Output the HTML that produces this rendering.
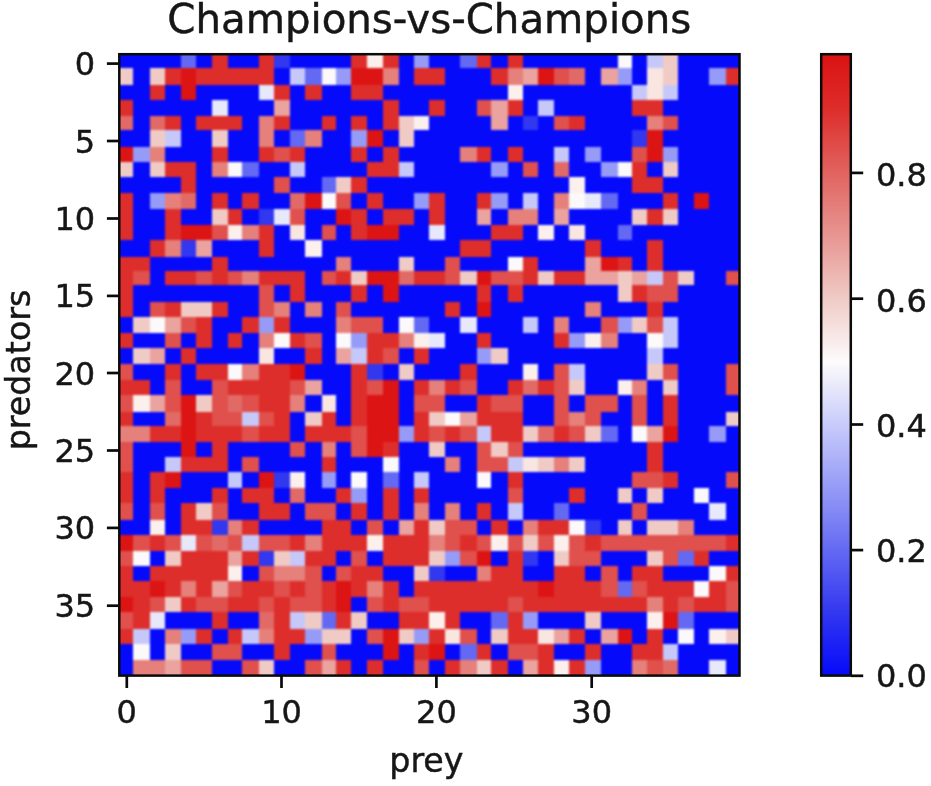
<!DOCTYPE html>
<html lang="en"><head><meta charset="utf-8"><title>Champions-vs-Champions</title>
<style>html,body{margin:0;padding:0;background:#fff}body{width:931px;height:786px;overflow:hidden}svg{display:block}text{font-family:'DejaVu Sans','Liberation Sans',sans-serif;fill:#161616;stroke:#161616;stroke-width:.45px}</style>
</head><body>
<svg width="931" height="786" viewBox="0 0 931 786">
<defs>
<clipPath id="axclip"><rect x="119.3" y="54.2" width="620.2" height="621.4"/></clipPath>
<linearGradient id="cbgrad" x1="0" y1="1" x2="0" y2="0">
<stop offset="0.000" stop-color="rgb(5,10,250)"/>
<stop offset="0.101" stop-color="rgb(50,55,240)"/>
<stop offset="0.202" stop-color="rgb(100,105,243)"/>
<stop offset="0.303" stop-color="rgb(150,155,247)"/>
<stop offset="0.404" stop-color="rgb(200,203,250)"/>
<stop offset="0.505" stop-color="rgb(253,251,252)"/>
<stop offset="0.606" stop-color="rgb(240,203,198)"/>
<stop offset="0.707" stop-color="rgb(231,150,146)"/>
<stop offset="0.808" stop-color="rgb(225,100,96)"/>
<stop offset="0.910" stop-color="rgb(221,46,44)"/>
<stop offset="1.000" stop-color="rgb(218,18,18)"/>
</linearGradient>
<filter id="soft" x="-2%" y="-2%" width="104%" height="104%" color-interpolation-filters="sRGB"><feGaussianBlur in="SourceGraphic" stdDeviation="0.8"/></filter>
</defs>
<rect width="931" height="786" fill="#fff"/>
<g clip-path="url(#axclip)"><rect x="117" y="52" width="625" height="626" fill="rgb(5,10,250)"/><g filter="url(#soft)" shape-rendering="crispEdges">
<rect x="117.4" y="52.0" width="63.8" height="15.8" fill="rgb(5,10,250)"/>
<rect x="180.9" y="52.0" width="15.6" height="15.8" fill="rgb(100,105,243)"/>
<rect x="196.2" y="52.0" width="16.4" height="15.8" fill="rgb(5,10,250)"/>
<rect x="212.3" y="52.0" width="15.7" height="15.8" fill="rgb(221,46,44)"/>
<rect x="227.7" y="52.0" width="31.5" height="15.8" fill="rgb(5,10,250)"/>
<rect x="258.9" y="52.0" width="15.4" height="15.8" fill="rgb(221,46,44)"/>
<rect x="274.0" y="52.0" width="16.2" height="15.8" fill="rgb(50,55,240)"/>
<rect x="289.9" y="52.0" width="61.4" height="15.8" fill="rgb(5,10,250)"/>
<rect x="351.0" y="52.0" width="16.6" height="15.8" fill="rgb(221,46,44)"/>
<rect x="367.3" y="52.0" width="15.7" height="15.8" fill="rgb(252,240,237)"/>
<rect x="382.7" y="52.0" width="16.6" height="15.8" fill="rgb(221,46,44)"/>
<rect x="399.0" y="52.0" width="15.2" height="15.8" fill="rgb(5,10,250)"/>
<rect x="413.9" y="52.0" width="15.4" height="15.8" fill="rgb(150,155,247)"/>
<rect x="429.0" y="52.0" width="31.1" height="15.8" fill="rgb(5,10,250)"/>
<rect x="459.8" y="52.0" width="17.1" height="15.8" fill="rgb(100,105,243)"/>
<rect x="476.6" y="52.0" width="14.6" height="15.8" fill="rgb(221,46,44)"/>
<rect x="490.9" y="52.0" width="17.4" height="15.8" fill="rgb(5,10,250)"/>
<rect x="508.0" y="52.0" width="15.0" height="15.8" fill="rgb(221,46,44)"/>
<rect x="522.7" y="52.0" width="95.3" height="15.8" fill="rgb(5,10,250)"/>
<rect x="617.7" y="52.0" width="14.2" height="15.8" fill="rgb(252,249,250)"/>
<rect x="631.6" y="52.0" width="15.2" height="15.8" fill="rgb(5,10,250)"/>
<rect x="646.5" y="52.0" width="16.6" height="15.8" fill="rgb(198,200,250)"/>
<rect x="662.8" y="52.0" width="15.4" height="15.8" fill="rgb(240,203,198)"/>
<rect x="677.9" y="52.0" width="63.8" height="15.8" fill="rgb(5,10,250)"/>
<rect x="117.4" y="67.5" width="15.8" height="17.6" fill="rgb(240,203,198)"/>
<rect x="132.9" y="67.5" width="17.2" height="17.6" fill="rgb(5,10,250)"/>
<rect x="149.8" y="67.5" width="15.1" height="17.6" fill="rgb(240,203,198)"/>
<rect x="164.6" y="67.5" width="16.6" height="17.6" fill="rgb(221,46,44)"/>
<rect x="180.9" y="67.5" width="15.6" height="17.6" fill="rgb(220,20,20)"/>
<rect x="196.2" y="67.5" width="78.1" height="17.6" fill="rgb(221,46,44)"/>
<rect x="274.0" y="67.5" width="16.2" height="17.6" fill="rgb(5,10,250)"/>
<rect x="289.9" y="67.5" width="15.7" height="17.6" fill="rgb(198,200,250)"/>
<rect x="305.3" y="67.5" width="16.6" height="17.6" fill="rgb(100,105,243)"/>
<rect x="321.6" y="67.5" width="14.6" height="17.6" fill="rgb(252,249,250)"/>
<rect x="335.9" y="67.5" width="15.4" height="17.6" fill="rgb(150,155,247)"/>
<rect x="351.0" y="67.5" width="32.0" height="17.6" fill="rgb(220,20,20)"/>
<rect x="382.7" y="67.5" width="16.6" height="17.6" fill="rgb(229,128,123)"/>
<rect x="399.0" y="67.5" width="15.2" height="17.6" fill="rgb(5,10,250)"/>
<rect x="413.9" y="67.5" width="31.7" height="17.6" fill="rgb(221,46,44)"/>
<rect x="445.3" y="67.5" width="45.9" height="17.6" fill="rgb(5,10,250)"/>
<rect x="490.9" y="67.5" width="17.4" height="17.6" fill="rgb(221,46,44)"/>
<rect x="508.0" y="67.5" width="15.0" height="17.6" fill="rgb(229,128,123)"/>
<rect x="522.7" y="67.5" width="15.3" height="17.6" fill="rgb(234,163,158)"/>
<rect x="537.7" y="67.5" width="16.6" height="17.6" fill="rgb(220,20,20)"/>
<rect x="554.0" y="67.5" width="15.2" height="17.6" fill="rgb(224,80,76)"/>
<rect x="568.9" y="67.5" width="16.4" height="17.6" fill="rgb(225,106,102)"/>
<rect x="585.0" y="67.5" width="15.8" height="17.6" fill="rgb(5,10,250)"/>
<rect x="600.5" y="67.5" width="17.5" height="17.6" fill="rgb(234,163,158)"/>
<rect x="617.7" y="67.5" width="14.2" height="17.6" fill="rgb(150,155,247)"/>
<rect x="631.6" y="67.5" width="15.2" height="17.6" fill="rgb(5,10,250)"/>
<rect x="646.5" y="67.5" width="16.6" height="17.6" fill="rgb(249,230,225)"/>
<rect x="662.8" y="67.5" width="15.4" height="17.6" fill="rgb(240,203,198)"/>
<rect x="677.9" y="67.5" width="31.4" height="17.6" fill="rgb(5,10,250)"/>
<rect x="709.0" y="67.5" width="17.2" height="17.6" fill="rgb(150,155,247)"/>
<rect x="725.9" y="67.5" width="15.8" height="17.6" fill="rgb(221,46,44)"/>
<rect x="117.4" y="84.8" width="32.7" height="15.1" fill="rgb(5,10,250)"/>
<rect x="149.8" y="84.8" width="15.1" height="15.1" fill="rgb(221,46,44)"/>
<rect x="164.6" y="84.8" width="16.6" height="15.1" fill="rgb(5,10,250)"/>
<rect x="180.9" y="84.8" width="15.6" height="15.1" fill="rgb(220,20,20)"/>
<rect x="196.2" y="84.8" width="63.0" height="15.1" fill="rgb(5,10,250)"/>
<rect x="258.9" y="84.8" width="15.4" height="15.1" fill="rgb(232,232,251)"/>
<rect x="274.0" y="84.8" width="16.2" height="15.1" fill="rgb(221,46,44)"/>
<rect x="289.9" y="84.8" width="15.7" height="15.1" fill="rgb(5,10,250)"/>
<rect x="305.3" y="84.8" width="16.6" height="15.1" fill="rgb(221,46,44)"/>
<rect x="321.6" y="84.8" width="29.7" height="15.1" fill="rgb(5,10,250)"/>
<rect x="351.0" y="84.8" width="32.0" height="15.1" fill="rgb(221,46,44)"/>
<rect x="382.7" y="84.8" width="125.6" height="15.1" fill="rgb(5,10,250)"/>
<rect x="508.0" y="84.8" width="15.0" height="15.1" fill="rgb(252,240,237)"/>
<rect x="522.7" y="84.8" width="109.2" height="15.1" fill="rgb(5,10,250)"/>
<rect x="631.6" y="84.8" width="15.2" height="15.1" fill="rgb(198,200,250)"/>
<rect x="646.5" y="84.8" width="16.6" height="15.1" fill="rgb(249,230,225)"/>
<rect x="662.8" y="84.8" width="15.4" height="15.1" fill="rgb(198,200,250)"/>
<rect x="677.9" y="84.8" width="63.8" height="15.1" fill="rgb(5,10,250)"/>
<rect x="117.4" y="99.6" width="15.8" height="16.2" fill="rgb(221,46,44)"/>
<rect x="132.9" y="99.6" width="79.7" height="16.2" fill="rgb(5,10,250)"/>
<rect x="212.3" y="99.6" width="15.7" height="16.2" fill="rgb(232,232,251)"/>
<rect x="227.7" y="99.6" width="46.6" height="16.2" fill="rgb(5,10,250)"/>
<rect x="274.0" y="99.6" width="16.2" height="16.2" fill="rgb(234,163,158)"/>
<rect x="289.9" y="99.6" width="93.1" height="16.2" fill="rgb(5,10,250)"/>
<rect x="382.7" y="99.6" width="16.6" height="16.2" fill="rgb(221,46,44)"/>
<rect x="399.0" y="99.6" width="30.3" height="16.2" fill="rgb(5,10,250)"/>
<rect x="429.0" y="99.6" width="16.6" height="16.2" fill="rgb(221,46,44)"/>
<rect x="445.3" y="99.6" width="31.6" height="16.2" fill="rgb(5,10,250)"/>
<rect x="476.6" y="99.6" width="14.6" height="16.2" fill="rgb(224,80,76)"/>
<rect x="490.9" y="99.6" width="17.4" height="16.2" fill="rgb(234,163,158)"/>
<rect x="508.0" y="99.6" width="15.0" height="16.2" fill="rgb(221,46,44)"/>
<rect x="522.7" y="99.6" width="15.3" height="16.2" fill="rgb(5,10,250)"/>
<rect x="537.7" y="99.6" width="16.6" height="16.2" fill="rgb(198,200,250)"/>
<rect x="554.0" y="99.6" width="77.9" height="16.2" fill="rgb(5,10,250)"/>
<rect x="631.6" y="99.6" width="31.5" height="16.2" fill="rgb(221,46,44)"/>
<rect x="662.8" y="99.6" width="78.9" height="16.2" fill="rgb(5,10,250)"/>
<rect x="117.4" y="115.5" width="15.8" height="15.2" fill="rgb(225,106,102)"/>
<rect x="132.9" y="115.5" width="17.2" height="15.2" fill="rgb(5,10,250)"/>
<rect x="149.8" y="115.5" width="15.1" height="15.2" fill="rgb(225,106,102)"/>
<rect x="164.6" y="115.5" width="16.6" height="15.2" fill="rgb(221,46,44)"/>
<rect x="180.9" y="115.5" width="15.6" height="15.2" fill="rgb(5,10,250)"/>
<rect x="196.2" y="115.5" width="46.1" height="15.2" fill="rgb(221,46,44)"/>
<rect x="242.0" y="115.5" width="17.2" height="15.2" fill="rgb(5,10,250)"/>
<rect x="258.9" y="115.5" width="15.4" height="15.2" fill="rgb(229,128,123)"/>
<rect x="274.0" y="115.5" width="16.2" height="15.2" fill="rgb(221,46,44)"/>
<rect x="289.9" y="115.5" width="32.0" height="15.2" fill="rgb(5,10,250)"/>
<rect x="321.6" y="115.5" width="14.6" height="15.2" fill="rgb(221,46,44)"/>
<rect x="335.9" y="115.5" width="15.4" height="15.2" fill="rgb(5,10,250)"/>
<rect x="351.0" y="115.5" width="16.6" height="15.2" fill="rgb(221,46,44)"/>
<rect x="367.3" y="115.5" width="15.7" height="15.2" fill="rgb(5,10,250)"/>
<rect x="382.7" y="115.5" width="16.6" height="15.2" fill="rgb(221,46,44)"/>
<rect x="399.0" y="115.5" width="15.2" height="15.2" fill="rgb(240,203,198)"/>
<rect x="413.9" y="115.5" width="15.4" height="15.2" fill="rgb(252,240,237)"/>
<rect x="429.0" y="115.5" width="62.2" height="15.2" fill="rgb(5,10,250)"/>
<rect x="490.9" y="115.5" width="17.4" height="15.2" fill="rgb(234,163,158)"/>
<rect x="508.0" y="115.5" width="15.0" height="15.2" fill="rgb(5,10,250)"/>
<rect x="522.7" y="115.5" width="15.3" height="15.2" fill="rgb(50,55,240)"/>
<rect x="537.7" y="115.5" width="16.6" height="15.2" fill="rgb(5,10,250)"/>
<rect x="554.0" y="115.5" width="15.2" height="15.2" fill="rgb(224,80,76)"/>
<rect x="568.9" y="115.5" width="16.4" height="15.2" fill="rgb(221,46,44)"/>
<rect x="585.0" y="115.5" width="61.8" height="15.2" fill="rgb(5,10,250)"/>
<rect x="646.5" y="115.5" width="16.6" height="15.2" fill="rgb(229,128,123)"/>
<rect x="662.8" y="115.5" width="15.4" height="15.2" fill="rgb(224,80,76)"/>
<rect x="677.9" y="115.5" width="63.8" height="15.2" fill="rgb(5,10,250)"/>
<rect x="117.4" y="130.4" width="32.7" height="17.2" fill="rgb(5,10,250)"/>
<rect x="149.8" y="130.4" width="15.1" height="17.2" fill="rgb(240,203,198)"/>
<rect x="164.6" y="130.4" width="16.6" height="17.2" fill="rgb(198,200,250)"/>
<rect x="180.9" y="130.4" width="31.7" height="17.2" fill="rgb(5,10,250)"/>
<rect x="212.3" y="130.4" width="15.7" height="17.2" fill="rgb(240,203,198)"/>
<rect x="227.7" y="130.4" width="31.5" height="17.2" fill="rgb(5,10,250)"/>
<rect x="258.9" y="130.4" width="15.4" height="17.2" fill="rgb(229,128,123)"/>
<rect x="274.0" y="130.4" width="16.2" height="17.2" fill="rgb(5,10,250)"/>
<rect x="289.9" y="130.4" width="15.7" height="17.2" fill="rgb(100,105,243)"/>
<rect x="305.3" y="130.4" width="16.6" height="17.2" fill="rgb(229,128,123)"/>
<rect x="321.6" y="130.4" width="29.7" height="17.2" fill="rgb(5,10,250)"/>
<rect x="351.0" y="130.4" width="16.6" height="17.2" fill="rgb(150,155,247)"/>
<rect x="367.3" y="130.4" width="15.7" height="17.2" fill="rgb(220,20,20)"/>
<rect x="382.7" y="130.4" width="16.6" height="17.2" fill="rgb(5,10,250)"/>
<rect x="399.0" y="130.4" width="15.2" height="17.2" fill="rgb(240,203,198)"/>
<rect x="413.9" y="130.4" width="218.0" height="17.2" fill="rgb(5,10,250)"/>
<rect x="631.6" y="130.4" width="15.2" height="17.2" fill="rgb(50,55,240)"/>
<rect x="646.5" y="130.4" width="16.6" height="17.2" fill="rgb(220,20,20)"/>
<rect x="662.8" y="130.4" width="78.9" height="17.2" fill="rgb(5,10,250)"/>
<rect x="117.4" y="147.3" width="15.8" height="15.1" fill="rgb(220,20,20)"/>
<rect x="132.9" y="147.3" width="17.2" height="15.1" fill="rgb(150,155,247)"/>
<rect x="149.8" y="147.3" width="15.1" height="15.1" fill="rgb(229,128,123)"/>
<rect x="164.6" y="147.3" width="48.0" height="15.1" fill="rgb(5,10,250)"/>
<rect x="212.3" y="147.3" width="15.7" height="15.1" fill="rgb(221,46,44)"/>
<rect x="227.7" y="147.3" width="31.5" height="15.1" fill="rgb(5,10,250)"/>
<rect x="258.9" y="147.3" width="15.4" height="15.1" fill="rgb(221,46,44)"/>
<rect x="274.0" y="147.3" width="16.2" height="15.1" fill="rgb(224,80,76)"/>
<rect x="289.9" y="147.3" width="15.7" height="15.1" fill="rgb(221,46,44)"/>
<rect x="305.3" y="147.3" width="46.0" height="15.1" fill="rgb(5,10,250)"/>
<rect x="351.0" y="147.3" width="16.6" height="15.1" fill="rgb(221,46,44)"/>
<rect x="367.3" y="147.3" width="15.7" height="15.1" fill="rgb(5,10,250)"/>
<rect x="382.7" y="147.3" width="16.6" height="15.1" fill="rgb(221,46,44)"/>
<rect x="399.0" y="147.3" width="61.1" height="15.1" fill="rgb(5,10,250)"/>
<rect x="459.8" y="147.3" width="17.1" height="15.1" fill="rgb(229,128,123)"/>
<rect x="476.6" y="147.3" width="14.6" height="15.1" fill="rgb(221,46,44)"/>
<rect x="490.9" y="147.3" width="17.4" height="15.1" fill="rgb(5,10,250)"/>
<rect x="508.0" y="147.3" width="15.0" height="15.1" fill="rgb(221,46,44)"/>
<rect x="522.7" y="147.3" width="31.6" height="15.1" fill="rgb(5,10,250)"/>
<rect x="554.0" y="147.3" width="15.2" height="15.1" fill="rgb(198,200,250)"/>
<rect x="568.9" y="147.3" width="16.4" height="15.1" fill="rgb(5,10,250)"/>
<rect x="585.0" y="147.3" width="15.8" height="15.1" fill="rgb(150,155,247)"/>
<rect x="600.5" y="147.3" width="31.4" height="15.1" fill="rgb(5,10,250)"/>
<rect x="631.6" y="147.3" width="15.2" height="15.1" fill="rgb(224,80,76)"/>
<rect x="646.5" y="147.3" width="16.6" height="15.1" fill="rgb(220,20,20)"/>
<rect x="662.8" y="147.3" width="15.4" height="15.1" fill="rgb(150,155,247)"/>
<rect x="677.9" y="147.3" width="63.8" height="15.1" fill="rgb(5,10,250)"/>
<rect x="117.4" y="162.1" width="15.8" height="15.2" fill="rgb(240,203,198)"/>
<rect x="132.9" y="162.1" width="17.2" height="15.2" fill="rgb(5,10,250)"/>
<rect x="149.8" y="162.1" width="15.1" height="15.2" fill="rgb(240,203,198)"/>
<rect x="164.6" y="162.1" width="31.9" height="15.2" fill="rgb(221,46,44)"/>
<rect x="196.2" y="162.1" width="16.4" height="15.2" fill="rgb(5,10,250)"/>
<rect x="212.3" y="162.1" width="15.7" height="15.2" fill="rgb(229,128,123)"/>
<rect x="227.7" y="162.1" width="14.6" height="15.2" fill="rgb(252,249,250)"/>
<rect x="242.0" y="162.1" width="17.2" height="15.2" fill="rgb(100,105,243)"/>
<rect x="258.9" y="162.1" width="31.3" height="15.2" fill="rgb(5,10,250)"/>
<rect x="289.9" y="162.1" width="15.7" height="15.2" fill="rgb(198,200,250)"/>
<rect x="305.3" y="162.1" width="62.3" height="15.2" fill="rgb(5,10,250)"/>
<rect x="367.3" y="162.1" width="32.0" height="15.2" fill="rgb(221,46,44)"/>
<rect x="399.0" y="162.1" width="15.2" height="15.2" fill="rgb(198,200,250)"/>
<rect x="413.9" y="162.1" width="77.3" height="15.2" fill="rgb(5,10,250)"/>
<rect x="490.9" y="162.1" width="17.4" height="15.2" fill="rgb(150,155,247)"/>
<rect x="508.0" y="162.1" width="15.0" height="15.2" fill="rgb(5,10,250)"/>
<rect x="522.7" y="162.1" width="15.3" height="15.2" fill="rgb(224,80,76)"/>
<rect x="537.7" y="162.1" width="16.6" height="15.2" fill="rgb(5,10,250)"/>
<rect x="554.0" y="162.1" width="15.2" height="15.2" fill="rgb(225,106,102)"/>
<rect x="568.9" y="162.1" width="31.9" height="15.2" fill="rgb(5,10,250)"/>
<rect x="600.5" y="162.1" width="17.5" height="15.2" fill="rgb(150,155,247)"/>
<rect x="617.7" y="162.1" width="14.2" height="15.2" fill="rgb(252,249,250)"/>
<rect x="631.6" y="162.1" width="15.2" height="15.2" fill="rgb(221,46,44)"/>
<rect x="646.5" y="162.1" width="16.6" height="15.2" fill="rgb(5,10,250)"/>
<rect x="662.8" y="162.1" width="15.4" height="15.2" fill="rgb(240,203,198)"/>
<rect x="677.9" y="162.1" width="63.8" height="15.2" fill="rgb(5,10,250)"/>
<rect x="117.4" y="177.0" width="63.8" height="16.2" fill="rgb(5,10,250)"/>
<rect x="180.9" y="177.0" width="15.6" height="16.2" fill="rgb(221,46,44)"/>
<rect x="196.2" y="177.0" width="78.1" height="16.2" fill="rgb(5,10,250)"/>
<rect x="274.0" y="177.0" width="16.2" height="16.2" fill="rgb(224,80,76)"/>
<rect x="289.9" y="177.0" width="32.0" height="16.2" fill="rgb(5,10,250)"/>
<rect x="321.6" y="177.0" width="14.6" height="16.2" fill="rgb(100,105,243)"/>
<rect x="335.9" y="177.0" width="15.4" height="16.2" fill="rgb(240,203,198)"/>
<rect x="351.0" y="177.0" width="16.6" height="16.2" fill="rgb(221,46,44)"/>
<rect x="367.3" y="177.0" width="201.9" height="16.2" fill="rgb(5,10,250)"/>
<rect x="568.9" y="177.0" width="16.4" height="16.2" fill="rgb(252,240,237)"/>
<rect x="585.0" y="177.0" width="46.9" height="16.2" fill="rgb(5,10,250)"/>
<rect x="631.6" y="177.0" width="31.5" height="16.2" fill="rgb(221,46,44)"/>
<rect x="662.8" y="177.0" width="78.9" height="16.2" fill="rgb(5,10,250)"/>
<rect x="117.4" y="192.9" width="15.8" height="16.4" fill="rgb(221,46,44)"/>
<rect x="132.9" y="192.9" width="17.2" height="16.4" fill="rgb(5,10,250)"/>
<rect x="149.8" y="192.9" width="15.1" height="16.4" fill="rgb(150,155,247)"/>
<rect x="164.6" y="192.9" width="16.6" height="16.4" fill="rgb(229,128,123)"/>
<rect x="180.9" y="192.9" width="15.6" height="16.4" fill="rgb(225,106,102)"/>
<rect x="196.2" y="192.9" width="16.4" height="16.4" fill="rgb(5,10,250)"/>
<rect x="212.3" y="192.9" width="15.7" height="16.4" fill="rgb(221,46,44)"/>
<rect x="227.7" y="192.9" width="14.6" height="16.4" fill="rgb(5,10,250)"/>
<rect x="242.0" y="192.9" width="17.2" height="16.4" fill="rgb(221,46,44)"/>
<rect x="258.9" y="192.9" width="31.3" height="16.4" fill="rgb(5,10,250)"/>
<rect x="289.9" y="192.9" width="15.7" height="16.4" fill="rgb(225,106,102)"/>
<rect x="305.3" y="192.9" width="16.6" height="16.4" fill="rgb(220,20,20)"/>
<rect x="321.6" y="192.9" width="14.6" height="16.4" fill="rgb(252,249,250)"/>
<rect x="335.9" y="192.9" width="15.4" height="16.4" fill="rgb(224,80,76)"/>
<rect x="351.0" y="192.9" width="16.6" height="16.4" fill="rgb(5,10,250)"/>
<rect x="367.3" y="192.9" width="15.7" height="16.4" fill="rgb(221,46,44)"/>
<rect x="382.7" y="192.9" width="31.5" height="16.4" fill="rgb(5,10,250)"/>
<rect x="413.9" y="192.9" width="15.4" height="16.4" fill="rgb(150,155,247)"/>
<rect x="429.0" y="192.9" width="16.6" height="16.4" fill="rgb(221,46,44)"/>
<rect x="445.3" y="192.9" width="31.6" height="16.4" fill="rgb(5,10,250)"/>
<rect x="476.6" y="192.9" width="14.6" height="16.4" fill="rgb(221,46,44)"/>
<rect x="490.9" y="192.9" width="17.4" height="16.4" fill="rgb(150,155,247)"/>
<rect x="508.0" y="192.9" width="15.0" height="16.4" fill="rgb(5,10,250)"/>
<rect x="522.7" y="192.9" width="15.3" height="16.4" fill="rgb(198,200,250)"/>
<rect x="537.7" y="192.9" width="16.6" height="16.4" fill="rgb(5,10,250)"/>
<rect x="554.0" y="192.9" width="15.2" height="16.4" fill="rgb(229,128,123)"/>
<rect x="568.9" y="192.9" width="16.4" height="16.4" fill="rgb(252,249,250)"/>
<rect x="585.0" y="192.9" width="15.8" height="16.4" fill="rgb(232,232,251)"/>
<rect x="600.5" y="192.9" width="17.5" height="16.4" fill="rgb(100,105,243)"/>
<rect x="617.7" y="192.9" width="45.4" height="16.4" fill="rgb(5,10,250)"/>
<rect x="662.8" y="192.9" width="15.4" height="16.4" fill="rgb(221,46,44)"/>
<rect x="677.9" y="192.9" width="16.1" height="16.4" fill="rgb(5,10,250)"/>
<rect x="693.7" y="192.9" width="15.6" height="16.4" fill="rgb(220,20,20)"/>
<rect x="709.0" y="192.9" width="32.7" height="16.4" fill="rgb(5,10,250)"/>
<rect x="117.4" y="209.0" width="15.8" height="16.2" fill="rgb(221,46,44)"/>
<rect x="132.9" y="209.0" width="32.0" height="16.2" fill="rgb(5,10,250)"/>
<rect x="164.6" y="209.0" width="16.6" height="16.2" fill="rgb(221,46,44)"/>
<rect x="180.9" y="209.0" width="31.7" height="16.2" fill="rgb(5,10,250)"/>
<rect x="212.3" y="209.0" width="15.7" height="16.2" fill="rgb(240,203,198)"/>
<rect x="227.7" y="209.0" width="14.6" height="16.2" fill="rgb(221,46,44)"/>
<rect x="242.0" y="209.0" width="17.2" height="16.2" fill="rgb(5,10,250)"/>
<rect x="258.9" y="209.0" width="15.4" height="16.2" fill="rgb(50,55,240)"/>
<rect x="274.0" y="209.0" width="16.2" height="16.2" fill="rgb(232,232,251)"/>
<rect x="289.9" y="209.0" width="15.7" height="16.2" fill="rgb(224,80,76)"/>
<rect x="305.3" y="209.0" width="30.9" height="16.2" fill="rgb(5,10,250)"/>
<rect x="335.9" y="209.0" width="15.4" height="16.2" fill="rgb(220,20,20)"/>
<rect x="351.0" y="209.0" width="16.6" height="16.2" fill="rgb(221,46,44)"/>
<rect x="367.3" y="209.0" width="15.7" height="16.2" fill="rgb(5,10,250)"/>
<rect x="382.7" y="209.0" width="31.5" height="16.2" fill="rgb(221,46,44)"/>
<rect x="413.9" y="209.0" width="15.4" height="16.2" fill="rgb(5,10,250)"/>
<rect x="429.0" y="209.0" width="16.6" height="16.2" fill="rgb(221,46,44)"/>
<rect x="445.3" y="209.0" width="31.6" height="16.2" fill="rgb(5,10,250)"/>
<rect x="476.6" y="209.0" width="14.6" height="16.2" fill="rgb(234,163,158)"/>
<rect x="490.9" y="209.0" width="17.4" height="16.2" fill="rgb(5,10,250)"/>
<rect x="508.0" y="209.0" width="30.0" height="16.2" fill="rgb(229,128,123)"/>
<rect x="537.7" y="209.0" width="16.6" height="16.2" fill="rgb(5,10,250)"/>
<rect x="554.0" y="209.0" width="15.2" height="16.2" fill="rgb(234,163,158)"/>
<rect x="568.9" y="209.0" width="63.0" height="16.2" fill="rgb(5,10,250)"/>
<rect x="631.6" y="209.0" width="15.2" height="16.2" fill="rgb(240,203,198)"/>
<rect x="646.5" y="209.0" width="16.6" height="16.2" fill="rgb(221,46,44)"/>
<rect x="662.8" y="209.0" width="15.4" height="16.2" fill="rgb(240,203,198)"/>
<rect x="677.9" y="209.0" width="63.8" height="16.2" fill="rgb(5,10,250)"/>
<rect x="117.4" y="224.9" width="15.8" height="15.2" fill="rgb(221,46,44)"/>
<rect x="132.9" y="224.9" width="32.0" height="15.2" fill="rgb(5,10,250)"/>
<rect x="164.6" y="224.9" width="16.6" height="15.2" fill="rgb(221,46,44)"/>
<rect x="180.9" y="224.9" width="31.7" height="15.2" fill="rgb(220,20,20)"/>
<rect x="212.3" y="224.9" width="15.7" height="15.2" fill="rgb(224,80,76)"/>
<rect x="227.7" y="224.9" width="14.6" height="15.2" fill="rgb(252,240,237)"/>
<rect x="242.0" y="224.9" width="17.2" height="15.2" fill="rgb(229,128,123)"/>
<rect x="258.9" y="224.9" width="15.4" height="15.2" fill="rgb(221,46,44)"/>
<rect x="274.0" y="224.9" width="16.2" height="15.2" fill="rgb(5,10,250)"/>
<rect x="289.9" y="224.9" width="15.7" height="15.2" fill="rgb(249,230,225)"/>
<rect x="305.3" y="224.9" width="16.6" height="15.2" fill="rgb(5,10,250)"/>
<rect x="321.6" y="224.9" width="14.6" height="15.2" fill="rgb(224,80,76)"/>
<rect x="335.9" y="224.9" width="15.4" height="15.2" fill="rgb(5,10,250)"/>
<rect x="351.0" y="224.9" width="16.6" height="15.2" fill="rgb(221,46,44)"/>
<rect x="367.3" y="224.9" width="32.0" height="15.2" fill="rgb(220,20,20)"/>
<rect x="399.0" y="224.9" width="30.3" height="15.2" fill="rgb(5,10,250)"/>
<rect x="429.0" y="224.9" width="16.6" height="15.2" fill="rgb(232,232,251)"/>
<rect x="445.3" y="224.9" width="45.9" height="15.2" fill="rgb(5,10,250)"/>
<rect x="490.9" y="224.9" width="32.1" height="15.2" fill="rgb(221,46,44)"/>
<rect x="522.7" y="224.9" width="15.3" height="15.2" fill="rgb(5,10,250)"/>
<rect x="537.7" y="224.9" width="16.6" height="15.2" fill="rgb(252,240,237)"/>
<rect x="554.0" y="224.9" width="15.2" height="15.2" fill="rgb(5,10,250)"/>
<rect x="568.9" y="224.9" width="16.4" height="15.2" fill="rgb(249,230,225)"/>
<rect x="585.0" y="224.9" width="33.0" height="15.2" fill="rgb(5,10,250)"/>
<rect x="617.7" y="224.9" width="14.2" height="15.2" fill="rgb(100,105,243)"/>
<rect x="631.6" y="224.9" width="110.1" height="15.2" fill="rgb(5,10,250)"/>
<rect x="117.4" y="239.8" width="32.7" height="17.1" fill="rgb(5,10,250)"/>
<rect x="149.8" y="239.8" width="15.1" height="17.1" fill="rgb(221,46,44)"/>
<rect x="164.6" y="239.8" width="16.6" height="17.1" fill="rgb(229,128,123)"/>
<rect x="180.9" y="239.8" width="15.6" height="17.1" fill="rgb(50,55,240)"/>
<rect x="196.2" y="239.8" width="16.4" height="17.1" fill="rgb(234,163,158)"/>
<rect x="212.3" y="239.8" width="46.9" height="17.1" fill="rgb(5,10,250)"/>
<rect x="258.9" y="239.8" width="15.4" height="17.1" fill="rgb(221,46,44)"/>
<rect x="274.0" y="239.8" width="31.6" height="17.1" fill="rgb(5,10,250)"/>
<rect x="305.3" y="239.8" width="16.6" height="17.1" fill="rgb(252,240,237)"/>
<rect x="321.6" y="239.8" width="138.5" height="17.1" fill="rgb(5,10,250)"/>
<rect x="459.8" y="239.8" width="31.4" height="17.1" fill="rgb(221,46,44)"/>
<rect x="490.9" y="239.8" width="94.4" height="17.1" fill="rgb(5,10,250)"/>
<rect x="585.0" y="239.8" width="15.8" height="17.1" fill="rgb(221,46,44)"/>
<rect x="600.5" y="239.8" width="46.3" height="17.1" fill="rgb(5,10,250)"/>
<rect x="646.5" y="239.8" width="16.6" height="17.1" fill="rgb(221,46,44)"/>
<rect x="662.8" y="239.8" width="78.9" height="17.1" fill="rgb(5,10,250)"/>
<rect x="117.4" y="256.6" width="32.7" height="14.6" fill="rgb(221,46,44)"/>
<rect x="149.8" y="256.6" width="62.8" height="14.6" fill="rgb(5,10,250)"/>
<rect x="212.3" y="256.6" width="15.7" height="14.6" fill="rgb(221,46,44)"/>
<rect x="227.7" y="256.6" width="108.5" height="14.6" fill="rgb(5,10,250)"/>
<rect x="335.9" y="256.6" width="15.4" height="14.6" fill="rgb(229,128,123)"/>
<rect x="351.0" y="256.6" width="48.3" height="14.6" fill="rgb(5,10,250)"/>
<rect x="399.0" y="256.6" width="15.2" height="14.6" fill="rgb(240,203,198)"/>
<rect x="413.9" y="256.6" width="31.7" height="14.6" fill="rgb(5,10,250)"/>
<rect x="445.3" y="256.6" width="14.8" height="14.6" fill="rgb(224,80,76)"/>
<rect x="459.8" y="256.6" width="48.5" height="14.6" fill="rgb(5,10,250)"/>
<rect x="508.0" y="256.6" width="15.0" height="14.6" fill="rgb(252,249,250)"/>
<rect x="522.7" y="256.6" width="15.3" height="14.6" fill="rgb(221,46,44)"/>
<rect x="537.7" y="256.6" width="47.6" height="14.6" fill="rgb(5,10,250)"/>
<rect x="585.0" y="256.6" width="15.8" height="14.6" fill="rgb(234,163,158)"/>
<rect x="600.5" y="256.6" width="17.5" height="14.6" fill="rgb(220,20,20)"/>
<rect x="617.7" y="256.6" width="14.2" height="14.6" fill="rgb(221,46,44)"/>
<rect x="631.6" y="256.6" width="15.2" height="14.6" fill="rgb(5,10,250)"/>
<rect x="646.5" y="256.6" width="16.6" height="14.6" fill="rgb(221,46,44)"/>
<rect x="662.8" y="256.6" width="78.9" height="14.6" fill="rgb(5,10,250)"/>
<rect x="117.4" y="270.9" width="15.8" height="14.8" fill="rgb(221,46,44)"/>
<rect x="132.9" y="270.9" width="17.2" height="14.8" fill="rgb(224,80,76)"/>
<rect x="149.8" y="270.9" width="15.1" height="14.8" fill="rgb(5,10,250)"/>
<rect x="164.6" y="270.9" width="31.9" height="14.8" fill="rgb(221,46,44)"/>
<rect x="196.2" y="270.9" width="16.4" height="14.8" fill="rgb(224,80,76)"/>
<rect x="212.3" y="270.9" width="15.7" height="14.8" fill="rgb(221,46,44)"/>
<rect x="227.7" y="270.9" width="14.6" height="14.8" fill="rgb(224,80,76)"/>
<rect x="242.0" y="270.9" width="17.2" height="14.8" fill="rgb(229,128,123)"/>
<rect x="258.9" y="270.9" width="46.7" height="14.8" fill="rgb(221,46,44)"/>
<rect x="305.3" y="270.9" width="16.6" height="14.8" fill="rgb(5,10,250)"/>
<rect x="321.6" y="270.9" width="14.6" height="14.8" fill="rgb(224,80,76)"/>
<rect x="335.9" y="270.9" width="15.4" height="14.8" fill="rgb(221,46,44)"/>
<rect x="351.0" y="270.9" width="16.6" height="14.8" fill="rgb(240,203,198)"/>
<rect x="367.3" y="270.9" width="32.0" height="14.8" fill="rgb(220,20,20)"/>
<rect x="399.0" y="270.9" width="15.2" height="14.8" fill="rgb(225,106,102)"/>
<rect x="413.9" y="270.9" width="31.7" height="14.8" fill="rgb(221,46,44)"/>
<rect x="445.3" y="270.9" width="14.8" height="14.8" fill="rgb(224,80,76)"/>
<rect x="459.8" y="270.9" width="17.1" height="14.8" fill="rgb(240,203,198)"/>
<rect x="476.6" y="270.9" width="14.6" height="14.8" fill="rgb(220,20,20)"/>
<rect x="490.9" y="270.9" width="32.1" height="14.8" fill="rgb(224,80,76)"/>
<rect x="522.7" y="270.9" width="15.3" height="14.8" fill="rgb(221,46,44)"/>
<rect x="537.7" y="270.9" width="16.6" height="14.8" fill="rgb(240,203,198)"/>
<rect x="554.0" y="270.9" width="31.3" height="14.8" fill="rgb(221,46,44)"/>
<rect x="585.0" y="270.9" width="15.8" height="14.8" fill="rgb(234,163,158)"/>
<rect x="600.5" y="270.9" width="17.5" height="14.8" fill="rgb(234,163,158)"/>
<rect x="617.7" y="270.9" width="14.2" height="14.8" fill="rgb(240,203,198)"/>
<rect x="631.6" y="270.9" width="15.2" height="14.8" fill="rgb(234,163,158)"/>
<rect x="646.5" y="270.9" width="16.6" height="14.8" fill="rgb(198,200,250)"/>
<rect x="662.8" y="270.9" width="15.4" height="14.8" fill="rgb(224,80,76)"/>
<rect x="677.9" y="270.9" width="16.1" height="14.8" fill="rgb(240,203,198)"/>
<rect x="693.7" y="270.9" width="32.5" height="14.8" fill="rgb(5,10,250)"/>
<rect x="725.9" y="270.9" width="15.8" height="14.8" fill="rgb(224,80,76)"/>
<rect x="117.4" y="285.4" width="15.8" height="17.2" fill="rgb(221,46,44)"/>
<rect x="132.9" y="285.4" width="126.3" height="17.2" fill="rgb(5,10,250)"/>
<rect x="258.9" y="285.4" width="15.4" height="17.2" fill="rgb(224,80,76)"/>
<rect x="274.0" y="285.4" width="16.2" height="17.2" fill="rgb(5,10,250)"/>
<rect x="289.9" y="285.4" width="15.7" height="17.2" fill="rgb(221,46,44)"/>
<rect x="305.3" y="285.4" width="46.0" height="17.2" fill="rgb(5,10,250)"/>
<rect x="351.0" y="285.4" width="16.6" height="17.2" fill="rgb(221,46,44)"/>
<rect x="367.3" y="285.4" width="15.7" height="17.2" fill="rgb(5,10,250)"/>
<rect x="382.7" y="285.4" width="16.6" height="17.2" fill="rgb(220,20,20)"/>
<rect x="399.0" y="285.4" width="77.9" height="17.2" fill="rgb(5,10,250)"/>
<rect x="476.6" y="285.4" width="14.6" height="17.2" fill="rgb(221,46,44)"/>
<rect x="490.9" y="285.4" width="17.4" height="17.2" fill="rgb(5,10,250)"/>
<rect x="508.0" y="285.4" width="15.0" height="17.2" fill="rgb(221,46,44)"/>
<rect x="522.7" y="285.4" width="95.3" height="17.2" fill="rgb(5,10,250)"/>
<rect x="617.7" y="285.4" width="14.2" height="17.2" fill="rgb(240,203,198)"/>
<rect x="631.6" y="285.4" width="15.2" height="17.2" fill="rgb(221,46,44)"/>
<rect x="646.5" y="285.4" width="31.7" height="17.2" fill="rgb(224,80,76)"/>
<rect x="677.9" y="285.4" width="63.8" height="17.2" fill="rgb(5,10,250)"/>
<rect x="117.4" y="302.3" width="15.8" height="15.1" fill="rgb(221,46,44)"/>
<rect x="132.9" y="302.3" width="17.2" height="15.1" fill="rgb(5,10,250)"/>
<rect x="149.8" y="302.3" width="15.1" height="15.1" fill="rgb(224,80,76)"/>
<rect x="164.6" y="302.3" width="16.6" height="15.1" fill="rgb(221,46,44)"/>
<rect x="180.9" y="302.3" width="31.7" height="15.1" fill="rgb(240,203,198)"/>
<rect x="212.3" y="302.3" width="15.7" height="15.1" fill="rgb(221,46,44)"/>
<rect x="227.7" y="302.3" width="31.5" height="15.1" fill="rgb(5,10,250)"/>
<rect x="258.9" y="302.3" width="15.4" height="15.1" fill="rgb(224,80,76)"/>
<rect x="274.0" y="302.3" width="16.2" height="15.1" fill="rgb(229,128,123)"/>
<rect x="289.9" y="302.3" width="15.7" height="15.1" fill="rgb(5,10,250)"/>
<rect x="305.3" y="302.3" width="16.6" height="15.1" fill="rgb(229,128,123)"/>
<rect x="321.6" y="302.3" width="14.6" height="15.1" fill="rgb(5,10,250)"/>
<rect x="335.9" y="302.3" width="15.4" height="15.1" fill="rgb(224,80,76)"/>
<rect x="351.0" y="302.3" width="94.6" height="15.1" fill="rgb(5,10,250)"/>
<rect x="445.3" y="302.3" width="14.8" height="15.1" fill="rgb(221,46,44)"/>
<rect x="459.8" y="302.3" width="17.1" height="15.1" fill="rgb(5,10,250)"/>
<rect x="476.6" y="302.3" width="14.6" height="15.1" fill="rgb(220,20,20)"/>
<rect x="490.9" y="302.3" width="94.4" height="15.1" fill="rgb(5,10,250)"/>
<rect x="585.0" y="302.3" width="15.8" height="15.1" fill="rgb(229,128,123)"/>
<rect x="600.5" y="302.3" width="46.3" height="15.1" fill="rgb(5,10,250)"/>
<rect x="646.5" y="302.3" width="16.6" height="15.1" fill="rgb(221,46,44)"/>
<rect x="662.8" y="302.3" width="78.9" height="15.1" fill="rgb(5,10,250)"/>
<rect x="117.4" y="317.1" width="15.8" height="16.2" fill="rgb(5,10,250)"/>
<rect x="132.9" y="317.1" width="17.2" height="16.2" fill="rgb(240,203,198)"/>
<rect x="149.8" y="317.1" width="15.1" height="16.2" fill="rgb(252,249,250)"/>
<rect x="164.6" y="317.1" width="16.6" height="16.2" fill="rgb(234,163,158)"/>
<rect x="180.9" y="317.1" width="15.6" height="16.2" fill="rgb(224,80,76)"/>
<rect x="196.2" y="317.1" width="16.4" height="16.2" fill="rgb(221,46,44)"/>
<rect x="212.3" y="317.1" width="30.0" height="16.2" fill="rgb(5,10,250)"/>
<rect x="242.0" y="317.1" width="17.2" height="16.2" fill="rgb(221,46,44)"/>
<rect x="258.9" y="317.1" width="15.4" height="16.2" fill="rgb(150,155,247)"/>
<rect x="274.0" y="317.1" width="16.2" height="16.2" fill="rgb(221,46,44)"/>
<rect x="289.9" y="317.1" width="46.3" height="16.2" fill="rgb(5,10,250)"/>
<rect x="335.9" y="317.1" width="15.4" height="16.2" fill="rgb(229,128,123)"/>
<rect x="351.0" y="317.1" width="32.0" height="16.2" fill="rgb(224,80,76)"/>
<rect x="382.7" y="317.1" width="16.6" height="16.2" fill="rgb(5,10,250)"/>
<rect x="399.0" y="317.1" width="15.2" height="16.2" fill="rgb(252,249,250)"/>
<rect x="413.9" y="317.1" width="15.4" height="16.2" fill="rgb(100,105,243)"/>
<rect x="429.0" y="317.1" width="31.1" height="16.2" fill="rgb(5,10,250)"/>
<rect x="459.8" y="317.1" width="17.1" height="16.2" fill="rgb(232,232,251)"/>
<rect x="476.6" y="317.1" width="46.4" height="16.2" fill="rgb(5,10,250)"/>
<rect x="522.7" y="317.1" width="15.3" height="16.2" fill="rgb(198,200,250)"/>
<rect x="537.7" y="317.1" width="16.6" height="16.2" fill="rgb(5,10,250)"/>
<rect x="554.0" y="317.1" width="15.2" height="16.2" fill="rgb(229,128,123)"/>
<rect x="568.9" y="317.1" width="31.9" height="16.2" fill="rgb(5,10,250)"/>
<rect x="600.5" y="317.1" width="17.5" height="16.2" fill="rgb(224,80,76)"/>
<rect x="617.7" y="317.1" width="14.2" height="16.2" fill="rgb(150,155,247)"/>
<rect x="631.6" y="317.1" width="15.2" height="16.2" fill="rgb(240,203,198)"/>
<rect x="646.5" y="317.1" width="16.6" height="16.2" fill="rgb(224,80,76)"/>
<rect x="662.8" y="317.1" width="15.4" height="16.2" fill="rgb(198,200,250)"/>
<rect x="677.9" y="317.1" width="63.8" height="16.2" fill="rgb(5,10,250)"/>
<rect x="117.4" y="333.0" width="15.8" height="15.2" fill="rgb(221,46,44)"/>
<rect x="132.9" y="333.0" width="32.0" height="15.2" fill="rgb(5,10,250)"/>
<rect x="164.6" y="333.0" width="16.6" height="15.2" fill="rgb(224,80,76)"/>
<rect x="180.9" y="333.0" width="15.6" height="15.2" fill="rgb(5,10,250)"/>
<rect x="196.2" y="333.0" width="16.4" height="15.2" fill="rgb(221,46,44)"/>
<rect x="212.3" y="333.0" width="15.7" height="15.2" fill="rgb(5,10,250)"/>
<rect x="227.7" y="333.0" width="14.6" height="15.2" fill="rgb(221,46,44)"/>
<rect x="242.0" y="333.0" width="17.2" height="15.2" fill="rgb(5,10,250)"/>
<rect x="258.9" y="333.0" width="15.4" height="15.2" fill="rgb(229,128,123)"/>
<rect x="274.0" y="333.0" width="16.2" height="15.2" fill="rgb(252,249,250)"/>
<rect x="289.9" y="333.0" width="15.7" height="15.2" fill="rgb(221,46,44)"/>
<rect x="305.3" y="333.0" width="16.6" height="15.2" fill="rgb(224,80,76)"/>
<rect x="321.6" y="333.0" width="14.6" height="15.2" fill="rgb(5,10,250)"/>
<rect x="335.9" y="333.0" width="15.4" height="15.2" fill="rgb(252,249,250)"/>
<rect x="351.0" y="333.0" width="16.6" height="15.2" fill="rgb(150,155,247)"/>
<rect x="367.3" y="333.0" width="32.0" height="15.2" fill="rgb(221,46,44)"/>
<rect x="399.0" y="333.0" width="15.2" height="15.2" fill="rgb(229,128,123)"/>
<rect x="413.9" y="333.0" width="15.4" height="15.2" fill="rgb(252,240,237)"/>
<rect x="429.0" y="333.0" width="16.6" height="15.2" fill="rgb(232,232,251)"/>
<rect x="445.3" y="333.0" width="31.6" height="15.2" fill="rgb(5,10,250)"/>
<rect x="476.6" y="333.0" width="14.6" height="15.2" fill="rgb(221,46,44)"/>
<rect x="490.9" y="333.0" width="63.4" height="15.2" fill="rgb(5,10,250)"/>
<rect x="554.0" y="333.0" width="15.2" height="15.2" fill="rgb(221,46,44)"/>
<rect x="568.9" y="333.0" width="16.4" height="15.2" fill="rgb(150,155,247)"/>
<rect x="585.0" y="333.0" width="15.8" height="15.2" fill="rgb(252,240,237)"/>
<rect x="600.5" y="333.0" width="17.5" height="15.2" fill="rgb(229,128,123)"/>
<rect x="617.7" y="333.0" width="29.1" height="15.2" fill="rgb(5,10,250)"/>
<rect x="646.5" y="333.0" width="16.6" height="15.2" fill="rgb(252,249,250)"/>
<rect x="662.8" y="333.0" width="15.4" height="15.2" fill="rgb(198,200,250)"/>
<rect x="677.9" y="333.0" width="63.8" height="15.2" fill="rgb(5,10,250)"/>
<rect x="117.4" y="347.9" width="15.8" height="16.4" fill="rgb(5,10,250)"/>
<rect x="132.9" y="347.9" width="17.2" height="16.4" fill="rgb(240,203,198)"/>
<rect x="149.8" y="347.9" width="15.1" height="16.4" fill="rgb(234,163,158)"/>
<rect x="164.6" y="347.9" width="16.6" height="16.4" fill="rgb(5,10,250)"/>
<rect x="180.9" y="347.9" width="15.6" height="16.4" fill="rgb(221,46,44)"/>
<rect x="196.2" y="347.9" width="63.0" height="16.4" fill="rgb(5,10,250)"/>
<rect x="258.9" y="347.9" width="15.4" height="16.4" fill="rgb(249,230,225)"/>
<rect x="274.0" y="347.9" width="31.6" height="16.4" fill="rgb(5,10,250)"/>
<rect x="305.3" y="347.9" width="16.6" height="16.4" fill="rgb(221,46,44)"/>
<rect x="321.6" y="347.9" width="14.6" height="16.4" fill="rgb(5,10,250)"/>
<rect x="335.9" y="347.9" width="15.4" height="16.4" fill="rgb(234,163,158)"/>
<rect x="351.0" y="347.9" width="16.6" height="16.4" fill="rgb(198,200,250)"/>
<rect x="367.3" y="347.9" width="15.7" height="16.4" fill="rgb(221,46,44)"/>
<rect x="382.7" y="347.9" width="16.6" height="16.4" fill="rgb(224,80,76)"/>
<rect x="399.0" y="347.9" width="15.2" height="16.4" fill="rgb(5,10,250)"/>
<rect x="413.9" y="347.9" width="15.4" height="16.4" fill="rgb(221,46,44)"/>
<rect x="429.0" y="347.9" width="47.9" height="16.4" fill="rgb(5,10,250)"/>
<rect x="476.6" y="347.9" width="14.6" height="16.4" fill="rgb(150,155,247)"/>
<rect x="490.9" y="347.9" width="17.4" height="16.4" fill="rgb(240,203,198)"/>
<rect x="508.0" y="347.9" width="138.8" height="16.4" fill="rgb(5,10,250)"/>
<rect x="646.5" y="347.9" width="16.6" height="16.4" fill="rgb(198,200,250)"/>
<rect x="662.8" y="347.9" width="78.9" height="16.4" fill="rgb(5,10,250)"/>
<rect x="117.4" y="364.0" width="15.8" height="16.2" fill="rgb(224,80,76)"/>
<rect x="132.9" y="364.0" width="32.0" height="16.2" fill="rgb(5,10,250)"/>
<rect x="164.6" y="364.0" width="16.6" height="16.2" fill="rgb(221,46,44)"/>
<rect x="180.9" y="364.0" width="15.6" height="16.2" fill="rgb(5,10,250)"/>
<rect x="196.2" y="364.0" width="31.8" height="16.2" fill="rgb(221,46,44)"/>
<rect x="227.7" y="364.0" width="14.6" height="16.2" fill="rgb(252,249,250)"/>
<rect x="242.0" y="364.0" width="17.2" height="16.2" fill="rgb(229,128,123)"/>
<rect x="258.9" y="364.0" width="31.3" height="16.2" fill="rgb(221,46,44)"/>
<rect x="289.9" y="364.0" width="15.7" height="16.2" fill="rgb(220,20,20)"/>
<rect x="305.3" y="364.0" width="46.0" height="16.2" fill="rgb(5,10,250)"/>
<rect x="351.0" y="364.0" width="16.6" height="16.2" fill="rgb(221,46,44)"/>
<rect x="367.3" y="364.0" width="15.7" height="16.2" fill="rgb(50,55,240)"/>
<rect x="382.7" y="364.0" width="16.6" height="16.2" fill="rgb(5,10,250)"/>
<rect x="399.0" y="364.0" width="15.2" height="16.2" fill="rgb(240,203,198)"/>
<rect x="413.9" y="364.0" width="46.2" height="16.2" fill="rgb(5,10,250)"/>
<rect x="459.8" y="364.0" width="17.1" height="16.2" fill="rgb(221,46,44)"/>
<rect x="476.6" y="364.0" width="46.4" height="16.2" fill="rgb(5,10,250)"/>
<rect x="522.7" y="364.0" width="15.3" height="16.2" fill="rgb(252,240,237)"/>
<rect x="537.7" y="364.0" width="16.6" height="16.2" fill="rgb(5,10,250)"/>
<rect x="554.0" y="364.0" width="15.2" height="16.2" fill="rgb(224,80,76)"/>
<rect x="568.9" y="364.0" width="16.4" height="16.2" fill="rgb(198,200,250)"/>
<rect x="585.0" y="364.0" width="61.8" height="16.2" fill="rgb(5,10,250)"/>
<rect x="646.5" y="364.0" width="16.6" height="16.2" fill="rgb(240,203,198)"/>
<rect x="662.8" y="364.0" width="15.4" height="16.2" fill="rgb(224,80,76)"/>
<rect x="677.9" y="364.0" width="48.3" height="16.2" fill="rgb(5,10,250)"/>
<rect x="725.9" y="364.0" width="15.8" height="16.2" fill="rgb(224,80,76)"/>
<rect x="117.4" y="379.9" width="32.7" height="15.2" fill="rgb(221,46,44)"/>
<rect x="149.8" y="379.9" width="15.1" height="15.2" fill="rgb(5,10,250)"/>
<rect x="164.6" y="379.9" width="16.6" height="15.2" fill="rgb(224,80,76)"/>
<rect x="180.9" y="379.9" width="31.7" height="15.2" fill="rgb(5,10,250)"/>
<rect x="212.3" y="379.9" width="15.7" height="15.2" fill="rgb(224,80,76)"/>
<rect x="227.7" y="379.9" width="62.5" height="15.2" fill="rgb(221,46,44)"/>
<rect x="289.9" y="379.9" width="15.7" height="15.2" fill="rgb(224,80,76)"/>
<rect x="305.3" y="379.9" width="16.6" height="15.2" fill="rgb(234,163,158)"/>
<rect x="321.6" y="379.9" width="29.7" height="15.2" fill="rgb(5,10,250)"/>
<rect x="351.0" y="379.9" width="16.6" height="15.2" fill="rgb(221,46,44)"/>
<rect x="367.3" y="379.9" width="15.7" height="15.2" fill="rgb(224,80,76)"/>
<rect x="382.7" y="379.9" width="16.6" height="15.2" fill="rgb(220,20,20)"/>
<rect x="399.0" y="379.9" width="15.2" height="15.2" fill="rgb(5,10,250)"/>
<rect x="413.9" y="379.9" width="15.4" height="15.2" fill="rgb(221,46,44)"/>
<rect x="429.0" y="379.9" width="16.6" height="15.2" fill="rgb(229,128,123)"/>
<rect x="445.3" y="379.9" width="14.8" height="15.2" fill="rgb(221,46,44)"/>
<rect x="459.8" y="379.9" width="17.1" height="15.2" fill="rgb(224,80,76)"/>
<rect x="476.6" y="379.9" width="31.7" height="15.2" fill="rgb(5,10,250)"/>
<rect x="508.0" y="379.9" width="15.0" height="15.2" fill="rgb(221,46,44)"/>
<rect x="522.7" y="379.9" width="15.3" height="15.2" fill="rgb(225,106,102)"/>
<rect x="537.7" y="379.9" width="16.6" height="15.2" fill="rgb(221,46,44)"/>
<rect x="554.0" y="379.9" width="15.2" height="15.2" fill="rgb(224,80,76)"/>
<rect x="568.9" y="379.9" width="16.4" height="15.2" fill="rgb(240,203,198)"/>
<rect x="585.0" y="379.9" width="33.0" height="15.2" fill="rgb(5,10,250)"/>
<rect x="617.7" y="379.9" width="14.2" height="15.2" fill="rgb(252,240,237)"/>
<rect x="631.6" y="379.9" width="15.2" height="15.2" fill="rgb(229,128,123)"/>
<rect x="646.5" y="379.9" width="16.6" height="15.2" fill="rgb(5,10,250)"/>
<rect x="662.8" y="379.9" width="15.4" height="15.2" fill="rgb(240,203,198)"/>
<rect x="677.9" y="379.9" width="48.3" height="15.2" fill="rgb(5,10,250)"/>
<rect x="725.9" y="379.9" width="15.8" height="15.2" fill="rgb(224,80,76)"/>
<rect x="117.4" y="394.8" width="15.8" height="17.1" fill="rgb(224,80,76)"/>
<rect x="132.9" y="394.8" width="17.2" height="17.1" fill="rgb(252,240,237)"/>
<rect x="149.8" y="394.8" width="15.1" height="17.1" fill="rgb(234,163,158)"/>
<rect x="164.6" y="394.8" width="16.6" height="17.1" fill="rgb(224,80,76)"/>
<rect x="180.9" y="394.8" width="15.6" height="17.1" fill="rgb(220,20,20)"/>
<rect x="196.2" y="394.8" width="16.4" height="17.1" fill="rgb(240,203,198)"/>
<rect x="212.3" y="394.8" width="15.7" height="17.1" fill="rgb(224,80,76)"/>
<rect x="227.7" y="394.8" width="14.6" height="17.1" fill="rgb(225,106,102)"/>
<rect x="242.0" y="394.8" width="17.2" height="17.1" fill="rgb(224,80,76)"/>
<rect x="258.9" y="394.8" width="31.3" height="17.1" fill="rgb(221,46,44)"/>
<rect x="289.9" y="394.8" width="15.7" height="17.1" fill="rgb(229,128,123)"/>
<rect x="305.3" y="394.8" width="16.6" height="17.1" fill="rgb(5,10,250)"/>
<rect x="321.6" y="394.8" width="14.6" height="17.1" fill="rgb(249,230,225)"/>
<rect x="335.9" y="394.8" width="15.4" height="17.1" fill="rgb(5,10,250)"/>
<rect x="351.0" y="394.8" width="16.6" height="17.1" fill="rgb(221,46,44)"/>
<rect x="367.3" y="394.8" width="32.0" height="17.1" fill="rgb(220,20,20)"/>
<rect x="399.0" y="394.8" width="15.2" height="17.1" fill="rgb(5,10,250)"/>
<rect x="413.9" y="394.8" width="31.7" height="17.1" fill="rgb(224,80,76)"/>
<rect x="445.3" y="394.8" width="31.6" height="17.1" fill="rgb(5,10,250)"/>
<rect x="476.6" y="394.8" width="14.6" height="17.1" fill="rgb(221,46,44)"/>
<rect x="490.9" y="394.8" width="32.1" height="17.1" fill="rgb(224,80,76)"/>
<rect x="522.7" y="394.8" width="31.6" height="17.1" fill="rgb(5,10,250)"/>
<rect x="554.0" y="394.8" width="15.2" height="17.1" fill="rgb(224,80,76)"/>
<rect x="568.9" y="394.8" width="16.4" height="17.1" fill="rgb(5,10,250)"/>
<rect x="585.0" y="394.8" width="33.0" height="17.1" fill="rgb(224,80,76)"/>
<rect x="617.7" y="394.8" width="14.2" height="17.1" fill="rgb(5,10,250)"/>
<rect x="631.6" y="394.8" width="15.2" height="17.1" fill="rgb(224,80,76)"/>
<rect x="646.5" y="394.8" width="16.6" height="17.1" fill="rgb(5,10,250)"/>
<rect x="662.8" y="394.8" width="15.4" height="17.1" fill="rgb(221,46,44)"/>
<rect x="677.9" y="394.8" width="63.8" height="17.1" fill="rgb(5,10,250)"/>
<rect x="117.4" y="411.6" width="15.8" height="14.6" fill="rgb(221,46,44)"/>
<rect x="132.9" y="411.6" width="32.0" height="14.6" fill="rgb(5,10,250)"/>
<rect x="164.6" y="411.6" width="16.6" height="14.6" fill="rgb(225,106,102)"/>
<rect x="180.9" y="411.6" width="15.6" height="14.6" fill="rgb(220,20,20)"/>
<rect x="196.2" y="411.6" width="16.4" height="14.6" fill="rgb(221,46,44)"/>
<rect x="212.3" y="411.6" width="30.0" height="14.6" fill="rgb(224,80,76)"/>
<rect x="242.0" y="411.6" width="17.2" height="14.6" fill="rgb(198,200,250)"/>
<rect x="258.9" y="411.6" width="15.4" height="14.6" fill="rgb(224,80,76)"/>
<rect x="274.0" y="411.6" width="16.2" height="14.6" fill="rgb(221,46,44)"/>
<rect x="289.9" y="411.6" width="15.7" height="14.6" fill="rgb(5,10,250)"/>
<rect x="305.3" y="411.6" width="16.6" height="14.6" fill="rgb(240,203,198)"/>
<rect x="321.6" y="411.6" width="14.6" height="14.6" fill="rgb(221,46,44)"/>
<rect x="335.9" y="411.6" width="15.4" height="14.6" fill="rgb(5,10,250)"/>
<rect x="351.0" y="411.6" width="16.6" height="14.6" fill="rgb(221,46,44)"/>
<rect x="367.3" y="411.6" width="32.0" height="14.6" fill="rgb(220,20,20)"/>
<rect x="399.0" y="411.6" width="15.2" height="14.6" fill="rgb(5,10,250)"/>
<rect x="413.9" y="411.6" width="15.4" height="14.6" fill="rgb(221,46,44)"/>
<rect x="429.0" y="411.6" width="16.6" height="14.6" fill="rgb(240,203,198)"/>
<rect x="445.3" y="411.6" width="14.8" height="14.6" fill="rgb(252,249,250)"/>
<rect x="459.8" y="411.6" width="17.1" height="14.6" fill="rgb(234,163,158)"/>
<rect x="476.6" y="411.6" width="46.4" height="14.6" fill="rgb(221,46,44)"/>
<rect x="522.7" y="411.6" width="31.6" height="14.6" fill="rgb(5,10,250)"/>
<rect x="554.0" y="411.6" width="15.2" height="14.6" fill="rgb(224,80,76)"/>
<rect x="568.9" y="411.6" width="16.4" height="14.6" fill="rgb(229,128,123)"/>
<rect x="585.0" y="411.6" width="15.8" height="14.6" fill="rgb(224,80,76)"/>
<rect x="600.5" y="411.6" width="31.4" height="14.6" fill="rgb(5,10,250)"/>
<rect x="631.6" y="411.6" width="15.2" height="14.6" fill="rgb(224,80,76)"/>
<rect x="646.5" y="411.6" width="16.6" height="14.6" fill="rgb(5,10,250)"/>
<rect x="662.8" y="411.6" width="15.4" height="14.6" fill="rgb(221,46,44)"/>
<rect x="677.9" y="411.6" width="48.3" height="14.6" fill="rgb(5,10,250)"/>
<rect x="725.9" y="411.6" width="15.8" height="14.6" fill="rgb(240,203,198)"/>
<rect x="117.4" y="425.9" width="32.7" height="16.8" fill="rgb(229,128,123)"/>
<rect x="149.8" y="425.9" width="31.4" height="16.8" fill="rgb(221,46,44)"/>
<rect x="180.9" y="425.9" width="15.6" height="16.8" fill="rgb(220,20,20)"/>
<rect x="196.2" y="425.9" width="46.1" height="16.8" fill="rgb(221,46,44)"/>
<rect x="242.0" y="425.9" width="17.2" height="16.8" fill="rgb(224,80,76)"/>
<rect x="258.9" y="425.9" width="31.3" height="16.8" fill="rgb(221,46,44)"/>
<rect x="289.9" y="425.9" width="15.7" height="16.8" fill="rgb(5,10,250)"/>
<rect x="305.3" y="425.9" width="46.0" height="16.8" fill="rgb(221,46,44)"/>
<rect x="351.0" y="425.9" width="16.6" height="16.8" fill="rgb(224,80,76)"/>
<rect x="367.3" y="425.9" width="32.0" height="16.8" fill="rgb(220,20,20)"/>
<rect x="399.0" y="425.9" width="15.2" height="16.8" fill="rgb(150,155,247)"/>
<rect x="413.9" y="425.9" width="15.4" height="16.8" fill="rgb(221,46,44)"/>
<rect x="429.0" y="425.9" width="16.6" height="16.8" fill="rgb(224,80,76)"/>
<rect x="445.3" y="425.9" width="14.8" height="16.8" fill="rgb(221,46,44)"/>
<rect x="459.8" y="425.9" width="17.1" height="16.8" fill="rgb(224,80,76)"/>
<rect x="476.6" y="425.9" width="14.6" height="16.8" fill="rgb(198,200,250)"/>
<rect x="490.9" y="425.9" width="32.1" height="16.8" fill="rgb(221,46,44)"/>
<rect x="522.7" y="425.9" width="15.3" height="16.8" fill="rgb(240,203,198)"/>
<rect x="537.7" y="425.9" width="16.6" height="16.8" fill="rgb(225,106,102)"/>
<rect x="554.0" y="425.9" width="15.2" height="16.8" fill="rgb(221,46,44)"/>
<rect x="568.9" y="425.9" width="16.4" height="16.8" fill="rgb(224,80,76)"/>
<rect x="585.0" y="425.9" width="15.8" height="16.8" fill="rgb(240,203,198)"/>
<rect x="600.5" y="425.9" width="17.5" height="16.8" fill="rgb(100,105,243)"/>
<rect x="617.7" y="425.9" width="14.2" height="16.8" fill="rgb(5,10,250)"/>
<rect x="631.6" y="425.9" width="15.2" height="16.8" fill="rgb(252,249,250)"/>
<rect x="646.5" y="425.9" width="16.6" height="16.8" fill="rgb(234,163,158)"/>
<rect x="662.8" y="425.9" width="15.4" height="16.8" fill="rgb(220,20,20)"/>
<rect x="677.9" y="425.9" width="31.4" height="16.8" fill="rgb(5,10,250)"/>
<rect x="709.0" y="425.9" width="17.2" height="16.8" fill="rgb(150,155,247)"/>
<rect x="725.9" y="425.9" width="15.8" height="16.8" fill="rgb(5,10,250)"/>
<rect x="117.4" y="442.4" width="15.8" height="15.2" fill="rgb(224,80,76)"/>
<rect x="132.9" y="442.4" width="48.3" height="15.2" fill="rgb(5,10,250)"/>
<rect x="180.9" y="442.4" width="15.6" height="15.2" fill="rgb(220,20,20)"/>
<rect x="196.2" y="442.4" width="16.4" height="15.2" fill="rgb(5,10,250)"/>
<rect x="212.3" y="442.4" width="15.7" height="15.2" fill="rgb(221,46,44)"/>
<rect x="227.7" y="442.4" width="62.5" height="15.2" fill="rgb(5,10,250)"/>
<rect x="289.9" y="442.4" width="15.7" height="15.2" fill="rgb(224,80,76)"/>
<rect x="305.3" y="442.4" width="16.6" height="15.2" fill="rgb(5,10,250)"/>
<rect x="321.6" y="442.4" width="14.6" height="15.2" fill="rgb(229,128,123)"/>
<rect x="335.9" y="442.4" width="15.4" height="15.2" fill="rgb(5,10,250)"/>
<rect x="351.0" y="442.4" width="16.6" height="15.2" fill="rgb(224,80,76)"/>
<rect x="367.3" y="442.4" width="15.7" height="15.2" fill="rgb(220,20,20)"/>
<rect x="382.7" y="442.4" width="16.6" height="15.2" fill="rgb(221,46,44)"/>
<rect x="399.0" y="442.4" width="30.3" height="15.2" fill="rgb(5,10,250)"/>
<rect x="429.0" y="442.4" width="16.6" height="15.2" fill="rgb(240,203,198)"/>
<rect x="445.3" y="442.4" width="31.6" height="15.2" fill="rgb(5,10,250)"/>
<rect x="476.6" y="442.4" width="14.6" height="15.2" fill="rgb(224,80,76)"/>
<rect x="490.9" y="442.4" width="17.4" height="15.2" fill="rgb(240,203,198)"/>
<rect x="508.0" y="442.4" width="15.0" height="15.2" fill="rgb(224,80,76)"/>
<rect x="522.7" y="442.4" width="124.1" height="15.2" fill="rgb(5,10,250)"/>
<rect x="646.5" y="442.4" width="16.6" height="15.2" fill="rgb(221,46,44)"/>
<rect x="662.8" y="442.4" width="78.9" height="15.2" fill="rgb(5,10,250)"/>
<rect x="117.4" y="457.3" width="15.8" height="15.1" fill="rgb(224,80,76)"/>
<rect x="132.9" y="457.3" width="32.0" height="15.1" fill="rgb(5,10,250)"/>
<rect x="164.6" y="457.3" width="16.6" height="15.1" fill="rgb(198,200,250)"/>
<rect x="180.9" y="457.3" width="47.1" height="15.1" fill="rgb(221,46,44)"/>
<rect x="227.7" y="457.3" width="14.6" height="15.1" fill="rgb(5,10,250)"/>
<rect x="242.0" y="457.3" width="17.2" height="15.1" fill="rgb(224,80,76)"/>
<rect x="258.9" y="457.3" width="63.0" height="15.1" fill="rgb(5,10,250)"/>
<rect x="321.6" y="457.3" width="14.6" height="15.1" fill="rgb(221,46,44)"/>
<rect x="335.9" y="457.3" width="47.1" height="15.1" fill="rgb(5,10,250)"/>
<rect x="382.7" y="457.3" width="16.6" height="15.1" fill="rgb(252,249,250)"/>
<rect x="399.0" y="457.3" width="46.6" height="15.1" fill="rgb(5,10,250)"/>
<rect x="445.3" y="457.3" width="14.8" height="15.1" fill="rgb(229,128,123)"/>
<rect x="459.8" y="457.3" width="17.1" height="15.1" fill="rgb(5,10,250)"/>
<rect x="476.6" y="457.3" width="31.7" height="15.1" fill="rgb(224,80,76)"/>
<rect x="508.0" y="457.3" width="15.0" height="15.1" fill="rgb(198,200,250)"/>
<rect x="522.7" y="457.3" width="15.3" height="15.1" fill="rgb(249,230,225)"/>
<rect x="537.7" y="457.3" width="16.6" height="15.1" fill="rgb(240,203,198)"/>
<rect x="554.0" y="457.3" width="15.2" height="15.1" fill="rgb(229,128,123)"/>
<rect x="568.9" y="457.3" width="16.4" height="15.1" fill="rgb(240,203,198)"/>
<rect x="585.0" y="457.3" width="61.8" height="15.1" fill="rgb(5,10,250)"/>
<rect x="646.5" y="457.3" width="16.6" height="15.1" fill="rgb(221,46,44)"/>
<rect x="662.8" y="457.3" width="78.9" height="15.1" fill="rgb(5,10,250)"/>
<rect x="117.4" y="472.1" width="15.8" height="16.2" fill="rgb(221,46,44)"/>
<rect x="132.9" y="472.1" width="17.2" height="16.2" fill="rgb(5,10,250)"/>
<rect x="149.8" y="472.1" width="15.1" height="16.2" fill="rgb(221,46,44)"/>
<rect x="164.6" y="472.1" width="16.6" height="16.2" fill="rgb(220,20,20)"/>
<rect x="180.9" y="472.1" width="47.1" height="16.2" fill="rgb(5,10,250)"/>
<rect x="227.7" y="472.1" width="14.6" height="16.2" fill="rgb(198,200,250)"/>
<rect x="242.0" y="472.1" width="17.2" height="16.2" fill="rgb(5,10,250)"/>
<rect x="258.9" y="472.1" width="15.4" height="16.2" fill="rgb(220,20,20)"/>
<rect x="274.0" y="472.1" width="16.2" height="16.2" fill="rgb(50,55,240)"/>
<rect x="289.9" y="472.1" width="15.7" height="16.2" fill="rgb(252,240,237)"/>
<rect x="305.3" y="472.1" width="16.6" height="16.2" fill="rgb(5,10,250)"/>
<rect x="321.6" y="472.1" width="14.6" height="16.2" fill="rgb(150,155,247)"/>
<rect x="335.9" y="472.1" width="15.4" height="16.2" fill="rgb(5,10,250)"/>
<rect x="351.0" y="472.1" width="16.6" height="16.2" fill="rgb(252,249,250)"/>
<rect x="367.3" y="472.1" width="15.7" height="16.2" fill="rgb(5,10,250)"/>
<rect x="382.7" y="472.1" width="16.6" height="16.2" fill="rgb(100,105,243)"/>
<rect x="399.0" y="472.1" width="15.2" height="16.2" fill="rgb(5,10,250)"/>
<rect x="413.9" y="472.1" width="15.4" height="16.2" fill="rgb(198,200,250)"/>
<rect x="429.0" y="472.1" width="47.9" height="16.2" fill="rgb(5,10,250)"/>
<rect x="476.6" y="472.1" width="14.6" height="16.2" fill="rgb(252,249,250)"/>
<rect x="490.9" y="472.1" width="17.4" height="16.2" fill="rgb(5,10,250)"/>
<rect x="508.0" y="472.1" width="15.0" height="16.2" fill="rgb(221,46,44)"/>
<rect x="522.7" y="472.1" width="109.2" height="16.2" fill="rgb(5,10,250)"/>
<rect x="631.6" y="472.1" width="31.5" height="16.2" fill="rgb(224,80,76)"/>
<rect x="662.8" y="472.1" width="15.4" height="16.2" fill="rgb(221,46,44)"/>
<rect x="677.9" y="472.1" width="48.3" height="16.2" fill="rgb(5,10,250)"/>
<rect x="725.9" y="472.1" width="15.8" height="16.2" fill="rgb(224,80,76)"/>
<rect x="117.4" y="488.0" width="15.8" height="15.2" fill="rgb(221,46,44)"/>
<rect x="132.9" y="488.0" width="17.2" height="15.2" fill="rgb(5,10,250)"/>
<rect x="149.8" y="488.0" width="15.1" height="15.2" fill="rgb(221,46,44)"/>
<rect x="164.6" y="488.0" width="48.0" height="15.2" fill="rgb(5,10,250)"/>
<rect x="212.3" y="488.0" width="15.7" height="15.2" fill="rgb(221,46,44)"/>
<rect x="227.7" y="488.0" width="14.6" height="15.2" fill="rgb(5,10,250)"/>
<rect x="242.0" y="488.0" width="32.3" height="15.2" fill="rgb(221,46,44)"/>
<rect x="274.0" y="488.0" width="16.2" height="15.2" fill="rgb(5,10,250)"/>
<rect x="289.9" y="488.0" width="15.7" height="15.2" fill="rgb(225,106,102)"/>
<rect x="305.3" y="488.0" width="30.9" height="15.2" fill="rgb(5,10,250)"/>
<rect x="335.9" y="488.0" width="15.4" height="15.2" fill="rgb(221,46,44)"/>
<rect x="351.0" y="488.0" width="16.6" height="15.2" fill="rgb(150,155,247)"/>
<rect x="367.3" y="488.0" width="15.7" height="15.2" fill="rgb(5,10,250)"/>
<rect x="382.7" y="488.0" width="16.6" height="15.2" fill="rgb(221,46,44)"/>
<rect x="399.0" y="488.0" width="15.2" height="15.2" fill="rgb(5,10,250)"/>
<rect x="413.9" y="488.0" width="15.4" height="15.2" fill="rgb(221,46,44)"/>
<rect x="429.0" y="488.0" width="79.3" height="15.2" fill="rgb(5,10,250)"/>
<rect x="508.0" y="488.0" width="15.0" height="15.2" fill="rgb(224,80,76)"/>
<rect x="522.7" y="488.0" width="46.5" height="15.2" fill="rgb(5,10,250)"/>
<rect x="568.9" y="488.0" width="16.4" height="15.2" fill="rgb(221,46,44)"/>
<rect x="585.0" y="488.0" width="33.0" height="15.2" fill="rgb(5,10,250)"/>
<rect x="617.7" y="488.0" width="14.2" height="15.2" fill="rgb(240,203,198)"/>
<rect x="631.6" y="488.0" width="15.2" height="15.2" fill="rgb(5,10,250)"/>
<rect x="646.5" y="488.0" width="16.6" height="15.2" fill="rgb(240,203,198)"/>
<rect x="662.8" y="488.0" width="31.2" height="15.2" fill="rgb(5,10,250)"/>
<rect x="693.7" y="488.0" width="15.6" height="15.2" fill="rgb(252,249,250)"/>
<rect x="709.0" y="488.0" width="32.7" height="15.2" fill="rgb(5,10,250)"/>
<rect x="117.4" y="502.9" width="15.8" height="16.9" fill="rgb(224,80,76)"/>
<rect x="132.9" y="502.9" width="17.2" height="16.9" fill="rgb(5,10,250)"/>
<rect x="149.8" y="502.9" width="15.1" height="16.9" fill="rgb(224,80,76)"/>
<rect x="164.6" y="502.9" width="16.6" height="16.9" fill="rgb(5,10,250)"/>
<rect x="180.9" y="502.9" width="15.6" height="16.9" fill="rgb(221,46,44)"/>
<rect x="196.2" y="502.9" width="16.4" height="16.9" fill="rgb(240,203,198)"/>
<rect x="212.3" y="502.9" width="15.7" height="16.9" fill="rgb(224,80,76)"/>
<rect x="227.7" y="502.9" width="31.5" height="16.9" fill="rgb(5,10,250)"/>
<rect x="258.9" y="502.9" width="31.3" height="16.9" fill="rgb(221,46,44)"/>
<rect x="289.9" y="502.9" width="15.7" height="16.9" fill="rgb(5,10,250)"/>
<rect x="305.3" y="502.9" width="30.9" height="16.9" fill="rgb(224,80,76)"/>
<rect x="335.9" y="502.9" width="15.4" height="16.9" fill="rgb(5,10,250)"/>
<rect x="351.0" y="502.9" width="16.6" height="16.9" fill="rgb(221,46,44)"/>
<rect x="367.3" y="502.9" width="15.7" height="16.9" fill="rgb(5,10,250)"/>
<rect x="382.7" y="502.9" width="16.6" height="16.9" fill="rgb(221,46,44)"/>
<rect x="399.0" y="502.9" width="15.2" height="16.9" fill="rgb(5,10,250)"/>
<rect x="413.9" y="502.9" width="15.4" height="16.9" fill="rgb(229,128,123)"/>
<rect x="429.0" y="502.9" width="16.6" height="16.9" fill="rgb(5,10,250)"/>
<rect x="445.3" y="502.9" width="14.8" height="16.9" fill="rgb(229,128,123)"/>
<rect x="459.8" y="502.9" width="17.1" height="16.9" fill="rgb(5,10,250)"/>
<rect x="476.6" y="502.9" width="14.6" height="16.9" fill="rgb(221,46,44)"/>
<rect x="490.9" y="502.9" width="17.4" height="16.9" fill="rgb(5,10,250)"/>
<rect x="508.0" y="502.9" width="15.0" height="16.9" fill="rgb(198,200,250)"/>
<rect x="522.7" y="502.9" width="31.6" height="16.9" fill="rgb(5,10,250)"/>
<rect x="554.0" y="502.9" width="15.2" height="16.9" fill="rgb(100,105,243)"/>
<rect x="568.9" y="502.9" width="63.0" height="16.9" fill="rgb(5,10,250)"/>
<rect x="631.6" y="502.9" width="15.2" height="16.9" fill="rgb(224,80,76)"/>
<rect x="646.5" y="502.9" width="62.8" height="16.9" fill="rgb(5,10,250)"/>
<rect x="709.0" y="502.9" width="17.2" height="16.9" fill="rgb(232,232,251)"/>
<rect x="725.9" y="502.9" width="15.8" height="16.9" fill="rgb(5,10,250)"/>
<rect x="117.4" y="519.5" width="32.7" height="15.8" fill="rgb(5,10,250)"/>
<rect x="149.8" y="519.5" width="15.1" height="15.8" fill="rgb(252,240,237)"/>
<rect x="164.6" y="519.5" width="16.6" height="15.8" fill="rgb(5,10,250)"/>
<rect x="180.9" y="519.5" width="31.7" height="15.8" fill="rgb(221,46,44)"/>
<rect x="212.3" y="519.5" width="15.7" height="15.8" fill="rgb(50,55,240)"/>
<rect x="227.7" y="519.5" width="14.6" height="15.8" fill="rgb(229,128,123)"/>
<rect x="242.0" y="519.5" width="17.2" height="15.8" fill="rgb(221,46,44)"/>
<rect x="258.9" y="519.5" width="63.0" height="15.8" fill="rgb(5,10,250)"/>
<rect x="321.6" y="519.5" width="29.7" height="15.8" fill="rgb(221,46,44)"/>
<rect x="351.0" y="519.5" width="16.6" height="15.8" fill="rgb(5,10,250)"/>
<rect x="367.3" y="519.5" width="15.7" height="15.8" fill="rgb(224,80,76)"/>
<rect x="382.7" y="519.5" width="16.6" height="15.8" fill="rgb(5,10,250)"/>
<rect x="399.0" y="519.5" width="15.2" height="15.8" fill="rgb(234,163,158)"/>
<rect x="413.9" y="519.5" width="15.4" height="15.8" fill="rgb(221,46,44)"/>
<rect x="429.0" y="519.5" width="16.6" height="15.8" fill="rgb(240,203,198)"/>
<rect x="445.3" y="519.5" width="31.6" height="15.8" fill="rgb(224,80,76)"/>
<rect x="476.6" y="519.5" width="14.6" height="15.8" fill="rgb(5,10,250)"/>
<rect x="490.9" y="519.5" width="17.4" height="15.8" fill="rgb(221,46,44)"/>
<rect x="508.0" y="519.5" width="15.0" height="15.8" fill="rgb(5,10,250)"/>
<rect x="522.7" y="519.5" width="15.3" height="15.8" fill="rgb(229,128,123)"/>
<rect x="537.7" y="519.5" width="31.5" height="15.8" fill="rgb(221,46,44)"/>
<rect x="568.9" y="519.5" width="16.4" height="15.8" fill="rgb(252,249,250)"/>
<rect x="585.0" y="519.5" width="15.8" height="15.8" fill="rgb(50,55,240)"/>
<rect x="600.5" y="519.5" width="17.5" height="15.8" fill="rgb(5,10,250)"/>
<rect x="617.7" y="519.5" width="14.2" height="15.8" fill="rgb(240,203,198)"/>
<rect x="631.6" y="519.5" width="15.2" height="15.8" fill="rgb(5,10,250)"/>
<rect x="646.5" y="519.5" width="31.7" height="15.8" fill="rgb(240,203,198)"/>
<rect x="677.9" y="519.5" width="16.1" height="15.8" fill="rgb(229,128,123)"/>
<rect x="693.7" y="519.5" width="48.0" height="15.8" fill="rgb(5,10,250)"/>
<rect x="117.4" y="535.0" width="15.8" height="16.3" fill="rgb(220,20,20)"/>
<rect x="132.9" y="535.0" width="17.2" height="16.3" fill="rgb(224,80,76)"/>
<rect x="149.8" y="535.0" width="15.1" height="16.3" fill="rgb(221,46,44)"/>
<rect x="164.6" y="535.0" width="16.6" height="16.3" fill="rgb(224,80,76)"/>
<rect x="180.9" y="535.0" width="15.6" height="16.3" fill="rgb(232,232,251)"/>
<rect x="196.2" y="535.0" width="16.4" height="16.3" fill="rgb(224,80,76)"/>
<rect x="212.3" y="535.0" width="15.7" height="16.3" fill="rgb(225,106,102)"/>
<rect x="227.7" y="535.0" width="14.6" height="16.3" fill="rgb(224,80,76)"/>
<rect x="242.0" y="535.0" width="17.2" height="16.3" fill="rgb(198,200,250)"/>
<rect x="258.9" y="535.0" width="31.3" height="16.3" fill="rgb(224,80,76)"/>
<rect x="289.9" y="535.0" width="15.7" height="16.3" fill="rgb(221,46,44)"/>
<rect x="305.3" y="535.0" width="16.6" height="16.3" fill="rgb(229,128,123)"/>
<rect x="321.6" y="535.0" width="46.0" height="16.3" fill="rgb(221,46,44)"/>
<rect x="367.3" y="535.0" width="15.7" height="16.3" fill="rgb(252,240,237)"/>
<rect x="382.7" y="535.0" width="46.6" height="16.3" fill="rgb(221,46,44)"/>
<rect x="429.0" y="535.0" width="16.6" height="16.3" fill="rgb(229,128,123)"/>
<rect x="445.3" y="535.0" width="14.8" height="16.3" fill="rgb(224,80,76)"/>
<rect x="459.8" y="535.0" width="17.1" height="16.3" fill="rgb(221,46,44)"/>
<rect x="476.6" y="535.0" width="14.6" height="16.3" fill="rgb(224,80,76)"/>
<rect x="490.9" y="535.0" width="17.4" height="16.3" fill="rgb(252,240,237)"/>
<rect x="508.0" y="535.0" width="15.0" height="16.3" fill="rgb(224,80,76)"/>
<rect x="522.7" y="535.0" width="15.3" height="16.3" fill="rgb(240,203,198)"/>
<rect x="537.7" y="535.0" width="16.6" height="16.3" fill="rgb(224,80,76)"/>
<rect x="554.0" y="535.0" width="15.2" height="16.3" fill="rgb(252,240,237)"/>
<rect x="568.9" y="535.0" width="16.4" height="16.3" fill="rgb(224,80,76)"/>
<rect x="585.0" y="535.0" width="15.8" height="16.3" fill="rgb(221,46,44)"/>
<rect x="600.5" y="535.0" width="125.7" height="16.3" fill="rgb(224,80,76)"/>
<rect x="725.9" y="535.0" width="15.8" height="16.3" fill="rgb(221,46,44)"/>
<rect x="117.4" y="551.0" width="15.8" height="15.2" fill="rgb(224,80,76)"/>
<rect x="132.9" y="551.0" width="17.2" height="15.2" fill="rgb(252,249,250)"/>
<rect x="149.8" y="551.0" width="15.1" height="15.2" fill="rgb(5,10,250)"/>
<rect x="164.6" y="551.0" width="16.6" height="15.2" fill="rgb(240,203,198)"/>
<rect x="180.9" y="551.0" width="47.1" height="15.2" fill="rgb(221,46,44)"/>
<rect x="227.7" y="551.0" width="14.6" height="15.2" fill="rgb(234,163,158)"/>
<rect x="242.0" y="551.0" width="17.2" height="15.2" fill="rgb(221,46,44)"/>
<rect x="258.9" y="551.0" width="15.4" height="15.2" fill="rgb(50,55,240)"/>
<rect x="274.0" y="551.0" width="16.2" height="15.2" fill="rgb(240,203,198)"/>
<rect x="289.9" y="551.0" width="15.7" height="15.2" fill="rgb(198,200,250)"/>
<rect x="305.3" y="551.0" width="30.9" height="15.2" fill="rgb(221,46,44)"/>
<rect x="335.9" y="551.0" width="15.4" height="15.2" fill="rgb(5,10,250)"/>
<rect x="351.0" y="551.0" width="16.6" height="15.2" fill="rgb(224,80,76)"/>
<rect x="367.3" y="551.0" width="15.7" height="15.2" fill="rgb(5,10,250)"/>
<rect x="382.7" y="551.0" width="46.6" height="15.2" fill="rgb(221,46,44)"/>
<rect x="429.0" y="551.0" width="16.6" height="15.2" fill="rgb(240,203,198)"/>
<rect x="445.3" y="551.0" width="14.8" height="15.2" fill="rgb(150,155,247)"/>
<rect x="459.8" y="551.0" width="17.1" height="15.2" fill="rgb(224,80,76)"/>
<rect x="476.6" y="551.0" width="14.6" height="15.2" fill="rgb(220,20,20)"/>
<rect x="490.9" y="551.0" width="17.4" height="15.2" fill="rgb(5,10,250)"/>
<rect x="508.0" y="551.0" width="15.0" height="15.2" fill="rgb(221,46,44)"/>
<rect x="522.7" y="551.0" width="15.3" height="15.2" fill="rgb(50,55,240)"/>
<rect x="537.7" y="551.0" width="16.6" height="15.2" fill="rgb(5,10,250)"/>
<rect x="554.0" y="551.0" width="15.2" height="15.2" fill="rgb(240,203,198)"/>
<rect x="568.9" y="551.0" width="31.9" height="15.2" fill="rgb(224,80,76)"/>
<rect x="600.5" y="551.0" width="46.3" height="15.2" fill="rgb(5,10,250)"/>
<rect x="646.5" y="551.0" width="16.6" height="15.2" fill="rgb(240,203,198)"/>
<rect x="662.8" y="551.0" width="15.4" height="15.2" fill="rgb(224,80,76)"/>
<rect x="677.9" y="551.0" width="16.1" height="15.2" fill="rgb(100,105,243)"/>
<rect x="693.7" y="551.0" width="15.6" height="15.2" fill="rgb(221,46,44)"/>
<rect x="709.0" y="551.0" width="32.7" height="15.2" fill="rgb(5,10,250)"/>
<rect x="117.4" y="565.9" width="15.8" height="15.3" fill="rgb(221,46,44)"/>
<rect x="132.9" y="565.9" width="17.2" height="15.3" fill="rgb(5,10,250)"/>
<rect x="149.8" y="565.9" width="78.2" height="15.3" fill="rgb(221,46,44)"/>
<rect x="227.7" y="565.9" width="14.6" height="15.3" fill="rgb(252,240,237)"/>
<rect x="242.0" y="565.9" width="17.2" height="15.3" fill="rgb(5,10,250)"/>
<rect x="258.9" y="565.9" width="15.4" height="15.3" fill="rgb(224,80,76)"/>
<rect x="274.0" y="565.9" width="31.6" height="15.3" fill="rgb(229,128,123)"/>
<rect x="305.3" y="565.9" width="16.6" height="15.3" fill="rgb(224,80,76)"/>
<rect x="321.6" y="565.9" width="14.6" height="15.3" fill="rgb(5,10,250)"/>
<rect x="335.9" y="565.9" width="15.4" height="15.3" fill="rgb(224,80,76)"/>
<rect x="351.0" y="565.9" width="32.0" height="15.3" fill="rgb(221,46,44)"/>
<rect x="382.7" y="565.9" width="31.5" height="15.3" fill="rgb(5,10,250)"/>
<rect x="413.9" y="565.9" width="15.4" height="15.3" fill="rgb(240,203,198)"/>
<rect x="429.0" y="565.9" width="16.6" height="15.3" fill="rgb(50,55,240)"/>
<rect x="445.3" y="565.9" width="31.6" height="15.3" fill="rgb(5,10,250)"/>
<rect x="476.6" y="565.9" width="14.6" height="15.3" fill="rgb(229,128,123)"/>
<rect x="490.9" y="565.9" width="32.1" height="15.3" fill="rgb(221,46,44)"/>
<rect x="522.7" y="565.9" width="31.6" height="15.3" fill="rgb(5,10,250)"/>
<rect x="554.0" y="565.9" width="31.3" height="15.3" fill="rgb(221,46,44)"/>
<rect x="585.0" y="565.9" width="15.8" height="15.3" fill="rgb(5,10,250)"/>
<rect x="600.5" y="565.9" width="17.5" height="15.3" fill="rgb(224,80,76)"/>
<rect x="617.7" y="565.9" width="14.2" height="15.3" fill="rgb(5,10,250)"/>
<rect x="631.6" y="565.9" width="31.5" height="15.3" fill="rgb(221,46,44)"/>
<rect x="662.8" y="565.9" width="46.5" height="15.3" fill="rgb(5,10,250)"/>
<rect x="709.0" y="565.9" width="17.2" height="15.3" fill="rgb(252,249,250)"/>
<rect x="725.9" y="565.9" width="15.8" height="15.3" fill="rgb(221,46,44)"/>
<rect x="117.4" y="580.9" width="32.7" height="16.3" fill="rgb(221,46,44)"/>
<rect x="149.8" y="580.9" width="15.1" height="16.3" fill="rgb(220,20,20)"/>
<rect x="164.6" y="580.9" width="16.6" height="16.3" fill="rgb(221,46,44)"/>
<rect x="180.9" y="580.9" width="15.6" height="16.3" fill="rgb(229,128,123)"/>
<rect x="196.2" y="580.9" width="16.4" height="16.3" fill="rgb(221,46,44)"/>
<rect x="212.3" y="580.9" width="15.7" height="16.3" fill="rgb(234,163,158)"/>
<rect x="227.7" y="580.9" width="14.6" height="16.3" fill="rgb(224,80,76)"/>
<rect x="242.0" y="580.9" width="32.3" height="16.3" fill="rgb(221,46,44)"/>
<rect x="274.0" y="580.9" width="16.2" height="16.3" fill="rgb(224,80,76)"/>
<rect x="289.9" y="580.9" width="15.7" height="16.3" fill="rgb(221,46,44)"/>
<rect x="305.3" y="580.9" width="16.6" height="16.3" fill="rgb(224,80,76)"/>
<rect x="321.6" y="580.9" width="14.6" height="16.3" fill="rgb(221,46,44)"/>
<rect x="335.9" y="580.9" width="15.4" height="16.3" fill="rgb(220,20,20)"/>
<rect x="351.0" y="580.9" width="16.6" height="16.3" fill="rgb(221,46,44)"/>
<rect x="367.3" y="580.9" width="15.7" height="16.3" fill="rgb(229,128,123)"/>
<rect x="382.7" y="580.9" width="16.6" height="16.3" fill="rgb(221,46,44)"/>
<rect x="399.0" y="580.9" width="15.2" height="16.3" fill="rgb(5,10,250)"/>
<rect x="413.9" y="580.9" width="124.1" height="16.3" fill="rgb(221,46,44)"/>
<rect x="537.7" y="580.9" width="16.6" height="16.3" fill="rgb(220,20,20)"/>
<rect x="554.0" y="580.9" width="46.8" height="16.3" fill="rgb(221,46,44)"/>
<rect x="600.5" y="580.9" width="17.5" height="16.3" fill="rgb(224,80,76)"/>
<rect x="617.7" y="580.9" width="14.2" height="16.3" fill="rgb(100,105,243)"/>
<rect x="631.6" y="580.9" width="15.2" height="16.3" fill="rgb(224,80,76)"/>
<rect x="646.5" y="580.9" width="47.5" height="16.3" fill="rgb(221,46,44)"/>
<rect x="693.7" y="580.9" width="15.6" height="16.3" fill="rgb(252,249,250)"/>
<rect x="709.0" y="580.9" width="17.2" height="16.3" fill="rgb(221,46,44)"/>
<rect x="725.9" y="580.9" width="15.8" height="16.3" fill="rgb(224,80,76)"/>
<rect x="117.4" y="596.9" width="15.8" height="15.3" fill="rgb(220,20,20)"/>
<rect x="132.9" y="596.9" width="17.2" height="15.3" fill="rgb(221,46,44)"/>
<rect x="149.8" y="596.9" width="15.1" height="15.3" fill="rgb(224,80,76)"/>
<rect x="164.6" y="596.9" width="16.6" height="15.3" fill="rgb(240,203,198)"/>
<rect x="180.9" y="596.9" width="15.6" height="15.3" fill="rgb(221,46,44)"/>
<rect x="196.2" y="596.9" width="31.8" height="15.3" fill="rgb(224,80,76)"/>
<rect x="227.7" y="596.9" width="31.5" height="15.3" fill="rgb(221,46,44)"/>
<rect x="258.9" y="596.9" width="15.4" height="15.3" fill="rgb(224,80,76)"/>
<rect x="274.0" y="596.9" width="16.2" height="15.3" fill="rgb(221,46,44)"/>
<rect x="289.9" y="596.9" width="32.0" height="15.3" fill="rgb(224,80,76)"/>
<rect x="321.6" y="596.9" width="14.6" height="15.3" fill="rgb(221,46,44)"/>
<rect x="335.9" y="596.9" width="15.4" height="15.3" fill="rgb(220,20,20)"/>
<rect x="351.0" y="596.9" width="16.6" height="15.3" fill="rgb(5,10,250)"/>
<rect x="367.3" y="596.9" width="15.7" height="15.3" fill="rgb(224,80,76)"/>
<rect x="382.7" y="596.9" width="16.6" height="15.3" fill="rgb(221,46,44)"/>
<rect x="399.0" y="596.9" width="30.3" height="15.3" fill="rgb(224,80,76)"/>
<rect x="429.0" y="596.9" width="79.3" height="15.3" fill="rgb(221,46,44)"/>
<rect x="508.0" y="596.9" width="15.0" height="15.3" fill="rgb(224,80,76)"/>
<rect x="522.7" y="596.9" width="124.1" height="15.3" fill="rgb(221,46,44)"/>
<rect x="646.5" y="596.9" width="16.6" height="15.3" fill="rgb(229,128,123)"/>
<rect x="662.8" y="596.9" width="15.4" height="15.3" fill="rgb(221,46,44)"/>
<rect x="677.9" y="596.9" width="16.1" height="15.3" fill="rgb(224,80,76)"/>
<rect x="693.7" y="596.9" width="32.5" height="15.3" fill="rgb(221,46,44)"/>
<rect x="725.9" y="596.9" width="15.8" height="15.3" fill="rgb(224,80,76)"/>
<rect x="117.4" y="611.9" width="15.8" height="17.3" fill="rgb(224,80,76)"/>
<rect x="132.9" y="611.9" width="17.2" height="17.3" fill="rgb(221,46,44)"/>
<rect x="149.8" y="611.9" width="15.1" height="17.3" fill="rgb(232,232,251)"/>
<rect x="164.6" y="611.9" width="48.0" height="17.3" fill="rgb(5,10,250)"/>
<rect x="212.3" y="611.9" width="15.7" height="17.3" fill="rgb(221,46,44)"/>
<rect x="227.7" y="611.9" width="31.5" height="17.3" fill="rgb(5,10,250)"/>
<rect x="258.9" y="611.9" width="15.4" height="17.3" fill="rgb(225,106,102)"/>
<rect x="274.0" y="611.9" width="16.2" height="17.3" fill="rgb(221,46,44)"/>
<rect x="289.9" y="611.9" width="15.7" height="17.3" fill="rgb(198,200,250)"/>
<rect x="305.3" y="611.9" width="16.6" height="17.3" fill="rgb(240,203,198)"/>
<rect x="321.6" y="611.9" width="14.6" height="17.3" fill="rgb(100,105,243)"/>
<rect x="335.9" y="611.9" width="15.4" height="17.3" fill="rgb(221,46,44)"/>
<rect x="351.0" y="611.9" width="16.6" height="17.3" fill="rgb(240,203,198)"/>
<rect x="367.3" y="611.9" width="32.0" height="17.3" fill="rgb(5,10,250)"/>
<rect x="399.0" y="611.9" width="30.3" height="17.3" fill="rgb(221,46,44)"/>
<rect x="429.0" y="611.9" width="16.6" height="17.3" fill="rgb(252,240,237)"/>
<rect x="445.3" y="611.9" width="14.8" height="17.3" fill="rgb(221,46,44)"/>
<rect x="459.8" y="611.9" width="31.4" height="17.3" fill="rgb(5,10,250)"/>
<rect x="490.9" y="611.9" width="17.4" height="17.3" fill="rgb(100,105,243)"/>
<rect x="508.0" y="611.9" width="15.0" height="17.3" fill="rgb(221,46,44)"/>
<rect x="522.7" y="611.9" width="15.3" height="17.3" fill="rgb(150,155,247)"/>
<rect x="537.7" y="611.9" width="47.6" height="17.3" fill="rgb(5,10,250)"/>
<rect x="585.0" y="611.9" width="15.8" height="17.3" fill="rgb(240,203,198)"/>
<rect x="600.5" y="611.9" width="46.3" height="17.3" fill="rgb(5,10,250)"/>
<rect x="646.5" y="611.9" width="16.6" height="17.3" fill="rgb(252,240,237)"/>
<rect x="662.8" y="611.9" width="15.4" height="17.3" fill="rgb(220,20,20)"/>
<rect x="677.9" y="611.9" width="16.1" height="17.3" fill="rgb(100,105,243)"/>
<rect x="693.7" y="611.9" width="48.0" height="17.3" fill="rgb(5,10,250)"/>
<rect x="117.4" y="628.9" width="15.8" height="15.3" fill="rgb(221,46,44)"/>
<rect x="132.9" y="628.9" width="17.2" height="15.3" fill="rgb(198,200,250)"/>
<rect x="149.8" y="628.9" width="15.1" height="15.3" fill="rgb(5,10,250)"/>
<rect x="164.6" y="628.9" width="16.6" height="15.3" fill="rgb(229,128,123)"/>
<rect x="180.9" y="628.9" width="15.6" height="15.3" fill="rgb(150,155,247)"/>
<rect x="196.2" y="628.9" width="16.4" height="15.3" fill="rgb(221,46,44)"/>
<rect x="212.3" y="628.9" width="15.7" height="15.3" fill="rgb(5,10,250)"/>
<rect x="227.7" y="628.9" width="14.6" height="15.3" fill="rgb(221,46,44)"/>
<rect x="242.0" y="628.9" width="17.2" height="15.3" fill="rgb(198,200,250)"/>
<rect x="258.9" y="628.9" width="15.4" height="15.3" fill="rgb(229,128,123)"/>
<rect x="274.0" y="628.9" width="31.6" height="15.3" fill="rgb(221,46,44)"/>
<rect x="305.3" y="628.9" width="16.6" height="15.3" fill="rgb(150,155,247)"/>
<rect x="321.6" y="628.9" width="29.7" height="15.3" fill="rgb(240,203,198)"/>
<rect x="351.0" y="628.9" width="16.6" height="15.3" fill="rgb(5,10,250)"/>
<rect x="367.3" y="628.9" width="15.7" height="15.3" fill="rgb(224,80,76)"/>
<rect x="382.7" y="628.9" width="16.6" height="15.3" fill="rgb(220,20,20)"/>
<rect x="399.0" y="628.9" width="15.2" height="15.3" fill="rgb(240,203,198)"/>
<rect x="413.9" y="628.9" width="15.4" height="15.3" fill="rgb(150,155,247)"/>
<rect x="429.0" y="628.9" width="16.6" height="15.3" fill="rgb(221,46,44)"/>
<rect x="445.3" y="628.9" width="14.8" height="15.3" fill="rgb(249,230,225)"/>
<rect x="459.8" y="628.9" width="17.1" height="15.3" fill="rgb(224,80,76)"/>
<rect x="476.6" y="628.9" width="14.6" height="15.3" fill="rgb(5,10,250)"/>
<rect x="490.9" y="628.9" width="17.4" height="15.3" fill="rgb(240,203,198)"/>
<rect x="508.0" y="628.9" width="30.0" height="15.3" fill="rgb(221,46,44)"/>
<rect x="537.7" y="628.9" width="16.6" height="15.3" fill="rgb(249,230,225)"/>
<rect x="554.0" y="628.9" width="15.2" height="15.3" fill="rgb(234,163,158)"/>
<rect x="568.9" y="628.9" width="16.4" height="15.3" fill="rgb(221,46,44)"/>
<rect x="585.0" y="628.9" width="15.8" height="15.3" fill="rgb(5,10,250)"/>
<rect x="600.5" y="628.9" width="17.5" height="15.3" fill="rgb(234,163,158)"/>
<rect x="617.7" y="628.9" width="14.2" height="15.3" fill="rgb(220,20,20)"/>
<rect x="631.6" y="628.9" width="15.2" height="15.3" fill="rgb(5,10,250)"/>
<rect x="646.5" y="628.9" width="16.6" height="15.3" fill="rgb(221,46,44)"/>
<rect x="662.8" y="628.9" width="15.4" height="15.3" fill="rgb(5,10,250)"/>
<rect x="677.9" y="628.9" width="16.1" height="15.3" fill="rgb(252,249,250)"/>
<rect x="693.7" y="628.9" width="15.6" height="15.3" fill="rgb(5,10,250)"/>
<rect x="709.0" y="628.9" width="17.2" height="15.3" fill="rgb(252,240,237)"/>
<rect x="725.9" y="628.9" width="15.8" height="15.3" fill="rgb(240,203,198)"/>
<rect x="117.4" y="643.9" width="15.8" height="16.2" fill="rgb(5,10,250)"/>
<rect x="132.9" y="643.9" width="17.2" height="16.2" fill="rgb(252,249,250)"/>
<rect x="149.8" y="643.9" width="15.1" height="16.2" fill="rgb(5,10,250)"/>
<rect x="164.6" y="643.9" width="16.6" height="16.2" fill="rgb(240,203,198)"/>
<rect x="180.9" y="643.9" width="31.7" height="16.2" fill="rgb(5,10,250)"/>
<rect x="212.3" y="643.9" width="30.0" height="16.2" fill="rgb(224,80,76)"/>
<rect x="242.0" y="643.9" width="32.3" height="16.2" fill="rgb(5,10,250)"/>
<rect x="274.0" y="643.9" width="16.2" height="16.2" fill="rgb(221,46,44)"/>
<rect x="289.9" y="643.9" width="32.0" height="16.2" fill="rgb(5,10,250)"/>
<rect x="321.6" y="643.9" width="14.6" height="16.2" fill="rgb(224,80,76)"/>
<rect x="335.9" y="643.9" width="47.1" height="16.2" fill="rgb(5,10,250)"/>
<rect x="382.7" y="643.9" width="16.6" height="16.2" fill="rgb(220,20,20)"/>
<rect x="399.0" y="643.9" width="15.2" height="16.2" fill="rgb(5,10,250)"/>
<rect x="413.9" y="643.9" width="15.4" height="16.2" fill="rgb(221,46,44)"/>
<rect x="429.0" y="643.9" width="16.6" height="16.2" fill="rgb(220,20,20)"/>
<rect x="445.3" y="643.9" width="14.8" height="16.2" fill="rgb(5,10,250)"/>
<rect x="459.8" y="643.9" width="17.1" height="16.2" fill="rgb(100,105,243)"/>
<rect x="476.6" y="643.9" width="14.6" height="16.2" fill="rgb(221,46,44)"/>
<rect x="490.9" y="643.9" width="17.4" height="16.2" fill="rgb(5,10,250)"/>
<rect x="508.0" y="643.9" width="30.0" height="16.2" fill="rgb(224,80,76)"/>
<rect x="537.7" y="643.9" width="16.6" height="16.2" fill="rgb(221,46,44)"/>
<rect x="554.0" y="643.9" width="31.3" height="16.2" fill="rgb(5,10,250)"/>
<rect x="585.0" y="643.9" width="15.8" height="16.2" fill="rgb(221,46,44)"/>
<rect x="600.5" y="643.9" width="31.4" height="16.2" fill="rgb(5,10,250)"/>
<rect x="631.6" y="643.9" width="31.5" height="16.2" fill="rgb(221,46,44)"/>
<rect x="662.8" y="643.9" width="15.4" height="16.2" fill="rgb(198,200,250)"/>
<rect x="677.9" y="643.9" width="63.8" height="16.2" fill="rgb(5,10,250)"/>
<rect x="117.4" y="659.8" width="15.8" height="17.0" fill="rgb(5,10,250)"/>
<rect x="132.9" y="659.8" width="32.0" height="17.0" fill="rgb(229,128,123)"/>
<rect x="164.6" y="659.8" width="16.6" height="17.0" fill="rgb(234,163,158)"/>
<rect x="180.9" y="659.8" width="31.7" height="17.0" fill="rgb(224,80,76)"/>
<rect x="212.3" y="659.8" width="30.0" height="17.0" fill="rgb(5,10,250)"/>
<rect x="242.0" y="659.8" width="17.2" height="17.0" fill="rgb(224,80,76)"/>
<rect x="258.9" y="659.8" width="15.4" height="17.0" fill="rgb(240,203,198)"/>
<rect x="274.0" y="659.8" width="31.6" height="17.0" fill="rgb(5,10,250)"/>
<rect x="305.3" y="659.8" width="16.6" height="17.0" fill="rgb(224,80,76)"/>
<rect x="321.6" y="659.8" width="14.6" height="17.0" fill="rgb(234,163,158)"/>
<rect x="335.9" y="659.8" width="15.4" height="17.0" fill="rgb(221,46,44)"/>
<rect x="351.0" y="659.8" width="16.6" height="17.0" fill="rgb(5,10,250)"/>
<rect x="367.3" y="659.8" width="15.7" height="17.0" fill="rgb(221,46,44)"/>
<rect x="382.7" y="659.8" width="31.5" height="17.0" fill="rgb(5,10,250)"/>
<rect x="413.9" y="659.8" width="15.4" height="17.0" fill="rgb(224,80,76)"/>
<rect x="429.0" y="659.8" width="16.6" height="17.0" fill="rgb(5,10,250)"/>
<rect x="445.3" y="659.8" width="14.8" height="17.0" fill="rgb(221,46,44)"/>
<rect x="459.8" y="659.8" width="17.1" height="17.0" fill="rgb(229,128,123)"/>
<rect x="476.6" y="659.8" width="14.6" height="17.0" fill="rgb(240,203,198)"/>
<rect x="490.9" y="659.8" width="17.4" height="17.0" fill="rgb(221,46,44)"/>
<rect x="508.0" y="659.8" width="15.0" height="17.0" fill="rgb(5,10,250)"/>
<rect x="522.7" y="659.8" width="15.3" height="17.0" fill="rgb(234,163,158)"/>
<rect x="537.7" y="659.8" width="16.6" height="17.0" fill="rgb(221,46,44)"/>
<rect x="554.0" y="659.8" width="15.2" height="17.0" fill="rgb(252,240,237)"/>
<rect x="568.9" y="659.8" width="16.4" height="17.0" fill="rgb(221,46,44)"/>
<rect x="585.0" y="659.8" width="15.8" height="17.0" fill="rgb(150,155,247)"/>
<rect x="600.5" y="659.8" width="31.4" height="17.0" fill="rgb(5,10,250)"/>
<rect x="631.6" y="659.8" width="15.2" height="17.0" fill="rgb(229,128,123)"/>
<rect x="646.5" y="659.8" width="16.6" height="17.0" fill="rgb(224,80,76)"/>
<rect x="662.8" y="659.8" width="15.4" height="17.0" fill="rgb(225,106,102)"/>
<rect x="677.9" y="659.8" width="31.4" height="17.0" fill="rgb(5,10,250)"/>
<rect x="709.0" y="659.8" width="17.2" height="17.0" fill="rgb(232,232,251)"/>
<rect x="725.9" y="659.8" width="15.8" height="17.0" fill="rgb(5,10,250)"/>
</g></g>
<rect x="119.3" y="54.2" width="620.2" height="621.4" fill="none" stroke="#0a0a0a" stroke-width="2.5"/>
<g stroke="#0a0a0a" stroke-width="2.7">
<line x1="126.8" y1="675.6" x2="126.8" y2="688.0"/>
<line x1="281.5" y1="675.6" x2="281.5" y2="688.0"/>
<line x1="436.4" y1="675.6" x2="436.4" y2="688.0"/>
<line x1="591.7" y1="675.6" x2="591.7" y2="688.0"/>
<line x1="106.9" y1="63.6" x2="119.3" y2="63.6"/>
<line x1="106.9" y1="141.0" x2="119.3" y2="141.0"/>
<line x1="106.9" y1="218.5" x2="119.3" y2="218.5"/>
<line x1="106.9" y1="295.9" x2="119.3" y2="295.9"/>
<line x1="106.9" y1="373.0" x2="119.3" y2="373.0"/>
<line x1="106.9" y1="450.5" x2="119.3" y2="450.5"/>
<line x1="106.9" y1="527.9" x2="119.3" y2="527.9"/>
<line x1="106.9" y1="605.7" x2="119.3" y2="605.7"/>
</g>
<g font-size="32.0" text-anchor="middle">
<text x="126.8" y="723.3">0</text>
<text x="281.5" y="723.3">10</text>
<text x="436.4" y="723.3">20</text>
<text x="591.7" y="723.3">30</text>
</g>
<g font-size="32.0" text-anchor="end">
<text x="95.2" y="75.1">0</text>
<text x="95.2" y="152.5">5</text>
<text x="95.2" y="230.0">10</text>
<text x="95.2" y="307.4">15</text>
<text x="95.2" y="384.5">20</text>
<text x="95.2" y="462.0">25</text>
<text x="95.2" y="539.4">30</text>
<text x="95.2" y="617.2">35</text>
</g>
<text x="429.3" y="33.4" font-size="40.3" text-anchor="middle">Champions-vs-Champions</text>
<text x="426.4" y="771.8" font-size="33.3" text-anchor="middle">prey</text>
<text transform="translate(29.8,370) rotate(-90)" font-size="33.3" text-anchor="middle">predators</text>
<rect x="821.2" y="54.2" width="29.6" height="621.4" fill="url(#cbgrad)" stroke="#0a0a0a" stroke-width="2.5"/>
<g stroke="#0a0a0a" stroke-width="2.7">
<line x1="850.8" y1="675.8" x2="863.2" y2="675.8"/>
<line x1="850.8" y1="550.1" x2="863.2" y2="550.1"/>
<line x1="850.8" y1="424.5" x2="863.2" y2="424.5"/>
<line x1="850.8" y1="298.7" x2="863.2" y2="298.7"/>
<line x1="850.8" y1="172.9" x2="863.2" y2="172.9"/>
</g>
<g font-size="32.0" text-anchor="start">
<text x="876" y="687.1">0.0</text>
<text x="876" y="562.1">0.2</text>
<text x="876" y="437.4">0.4</text>
<text x="876" y="311.9">0.6</text>
<text x="876" y="186.1">0.8</text>
</g>
</svg>
</body></html>
